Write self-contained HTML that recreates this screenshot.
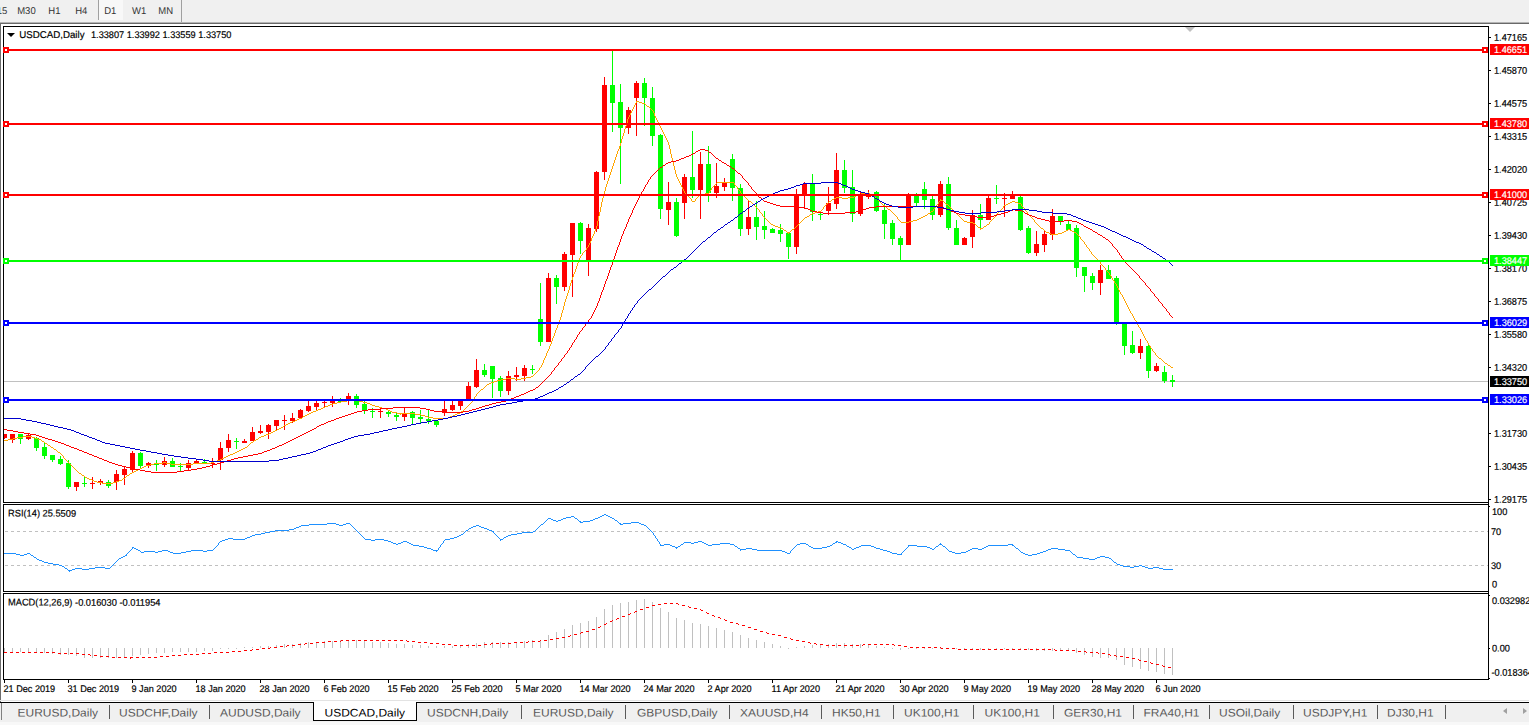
<!DOCTYPE html>
<html><head><meta charset="utf-8"><title>USDCAD,Daily</title>
<style>html,body{margin:0;padding:0;background:#fff;overflow:hidden}svg{display:block}text{font-family:"Liberation Sans",sans-serif}</style></head><body>
<svg width="1529" height="725" viewBox="0 0 1529 725">
<rect x="0" y="0" width="1529" height="725" fill="#ffffff"/>
<g shape-rendering="crispEdges">
<rect x="0" y="0" width="1529" height="22" fill="#f0f0f0"/>
<rect x="0" y="22" width="1529" height="1" fill="#b4b4b4"/>
<rect x="0" y="23" width="1529" height="1" fill="#696969"/>
<rect x="99" y="0" width="24" height="20" fill="#f8f8f8"/>
<rect x="98" y="0" width="1" height="20" fill="#a0a0a0"/>
<rect x="181" y="0" width="1" height="22" fill="#a0a0a0"/>
<rect x="0" y="23" width="1" height="679" fill="#6d6d6d"/>
</g>
<g shape-rendering="crispEdges">
<clipPath id="cm"><rect x="4" y="27" width="1484" height="475"/></clipPath>
<g clip-path="url(#cm)">
<rect x="4" y="381" width="1484" height="1" fill="#c0c0c0"/>
<rect x="4" y="434" width="1" height="5" fill="#ff0000"/>
<rect x="2" y="434" width="5" height="4" fill="#ff0000"/>
<rect x="12" y="434" width="1" height="9" fill="#ff0000"/>
<rect x="10" y="434" width="5" height="6" fill="#ff0000"/>
<rect x="20" y="434" width="1" height="10" fill="#00ff00"/>
<rect x="18" y="434" width="5" height="5" fill="#00ff00"/>
<rect x="28" y="434" width="1" height="6" fill="#ff0000"/>
<rect x="26" y="435" width="5" height="4" fill="#ff0000"/>
<rect x="36" y="437" width="1" height="14" fill="#00ff00"/>
<rect x="34" y="438" width="5" height="10" fill="#00ff00"/>
<rect x="44" y="443" width="1" height="16" fill="#00ff00"/>
<rect x="42" y="447" width="5" height="9" fill="#00ff00"/>
<rect x="52" y="455" width="1" height="7" fill="#00ff00"/>
<rect x="50" y="455" width="5" height="5" fill="#00ff00"/>
<rect x="60" y="456" width="1" height="9" fill="#00ff00"/>
<rect x="58" y="459" width="5" height="5" fill="#00ff00"/>
<rect x="68" y="460" width="1" height="29" fill="#00ff00"/>
<rect x="66" y="463" width="5" height="24" fill="#00ff00"/>
<rect x="76" y="482" width="1" height="9" fill="#ff0000"/>
<rect x="74" y="482" width="5" height="5" fill="#ff0000"/>
<rect x="84" y="476" width="1" height="11" fill="#00ff00"/>
<rect x="82" y="483" width="5" height="1" fill="#00ff00"/>
<rect x="92" y="477" width="1" height="12" fill="#ff0000"/>
<rect x="90" y="483" width="5" height="1" fill="#ff0000"/>
<rect x="100" y="479" width="1" height="6" fill="#ff0000"/>
<rect x="98" y="481" width="5" height="2" fill="#ff0000"/>
<rect x="108" y="480" width="1" height="8" fill="#00ff00"/>
<rect x="106" y="482" width="5" height="4" fill="#00ff00"/>
<rect x="116" y="470" width="1" height="20" fill="#ff0000"/>
<rect x="114" y="474" width="5" height="8" fill="#ff0000"/>
<rect x="124" y="467" width="1" height="18" fill="#ff0000"/>
<rect x="122" y="469" width="5" height="6" fill="#ff0000"/>
<rect x="132" y="451" width="1" height="21" fill="#ff0000"/>
<rect x="130" y="453" width="5" height="17" fill="#ff0000"/>
<rect x="140" y="452" width="1" height="17" fill="#00ff00"/>
<rect x="138" y="453" width="5" height="13" fill="#00ff00"/>
<rect x="148" y="462" width="1" height="6" fill="#ff0000"/>
<rect x="146" y="463" width="5" height="3" fill="#ff0000"/>
<rect x="156" y="460" width="1" height="11" fill="#00ff00"/>
<rect x="154" y="464" width="5" height="1" fill="#00ff00"/>
<rect x="164" y="457" width="1" height="10" fill="#ff0000"/>
<rect x="162" y="461" width="5" height="4" fill="#ff0000"/>
<rect x="172" y="458" width="1" height="9" fill="#00ff00"/>
<rect x="170" y="461" width="5" height="6" fill="#00ff00"/>
<rect x="180" y="463" width="1" height="8" fill="#00ff00"/>
<rect x="178" y="466" width="5" height="1" fill="#00ff00"/>
<rect x="188" y="460" width="1" height="10" fill="#ff0000"/>
<rect x="186" y="463" width="5" height="5" fill="#ff0000"/>
<rect x="196" y="460" width="1" height="4" fill="#ff0000"/>
<rect x="194" y="461" width="5" height="2" fill="#ff0000"/>
<rect x="204" y="459" width="1" height="5" fill="#00ff00"/>
<rect x="202" y="462" width="5" height="2" fill="#00ff00"/>
<rect x="212" y="458" width="1" height="10" fill="#ff0000"/>
<rect x="210" y="463" width="5" height="1" fill="#ff0000"/>
<rect x="220" y="442" width="1" height="28" fill="#ff0000"/>
<rect x="218" y="448" width="5" height="12" fill="#ff0000"/>
<rect x="228" y="434" width="1" height="18" fill="#ff0000"/>
<rect x="226" y="440" width="5" height="8" fill="#ff0000"/>
<rect x="236" y="438" width="1" height="11" fill="#00ff00"/>
<rect x="234" y="441" width="5" height="1" fill="#00ff00"/>
<rect x="244" y="439" width="1" height="4" fill="#ff0000"/>
<rect x="242" y="441" width="5" height="2" fill="#ff0000"/>
<rect x="252" y="427" width="1" height="14" fill="#ff0000"/>
<rect x="250" y="432" width="5" height="9" fill="#ff0000"/>
<rect x="260" y="425" width="1" height="9" fill="#ff0000"/>
<rect x="258" y="431" width="5" height="2" fill="#ff0000"/>
<rect x="268" y="424" width="1" height="15" fill="#ff0000"/>
<rect x="266" y="425" width="5" height="7" fill="#ff0000"/>
<rect x="276" y="420" width="1" height="10" fill="#ff0000"/>
<rect x="274" y="420" width="5" height="6" fill="#ff0000"/>
<rect x="284" y="415" width="1" height="15" fill="#ff0000"/>
<rect x="282" y="420" width="5" height="1" fill="#ff0000"/>
<rect x="292" y="413" width="1" height="10" fill="#ff0000"/>
<rect x="290" y="418" width="5" height="3" fill="#ff0000"/>
<rect x="300" y="409" width="1" height="10" fill="#ff0000"/>
<rect x="298" y="410" width="5" height="8" fill="#ff0000"/>
<rect x="308" y="401" width="1" height="11" fill="#ff0000"/>
<rect x="306" y="406" width="5" height="5" fill="#ff0000"/>
<rect x="316" y="401" width="1" height="10" fill="#ff0000"/>
<rect x="314" y="403" width="5" height="4" fill="#ff0000"/>
<rect x="324" y="400" width="1" height="8" fill="#ff0000"/>
<rect x="322" y="402" width="5" height="1" fill="#ff0000"/>
<rect x="332" y="396" width="1" height="11" fill="#ff0000"/>
<rect x="330" y="401" width="5" height="2" fill="#ff0000"/>
<rect x="340" y="398" width="1" height="4" fill="#00ff00"/>
<rect x="338" y="400" width="5" height="2" fill="#00ff00"/>
<rect x="348" y="393" width="1" height="12" fill="#ff0000"/>
<rect x="346" y="396" width="5" height="4" fill="#ff0000"/>
<rect x="356" y="394" width="1" height="14" fill="#00ff00"/>
<rect x="354" y="396" width="5" height="9" fill="#00ff00"/>
<rect x="364" y="401" width="1" height="13" fill="#00ff00"/>
<rect x="362" y="404" width="5" height="7" fill="#00ff00"/>
<rect x="372" y="408" width="1" height="10" fill="#00ff00"/>
<rect x="370" y="411" width="5" height="1" fill="#00ff00"/>
<rect x="380" y="408" width="1" height="10" fill="#ff0000"/>
<rect x="378" y="411" width="5" height="1" fill="#ff0000"/>
<rect x="388" y="411" width="1" height="6" fill="#00ff00"/>
<rect x="386" y="412" width="5" height="2" fill="#00ff00"/>
<rect x="396" y="413" width="1" height="8" fill="#00ff00"/>
<rect x="394" y="415" width="5" height="2" fill="#00ff00"/>
<rect x="404" y="407" width="1" height="14" fill="#ff0000"/>
<rect x="402" y="413" width="5" height="4" fill="#ff0000"/>
<rect x="412" y="411" width="1" height="13" fill="#00ff00"/>
<rect x="410" y="412" width="5" height="6" fill="#00ff00"/>
<rect x="420" y="410" width="1" height="13" fill="#00ff00"/>
<rect x="418" y="417" width="5" height="2" fill="#00ff00"/>
<rect x="428" y="409" width="1" height="15" fill="#00ff00"/>
<rect x="426" y="419" width="5" height="2" fill="#00ff00"/>
<rect x="436" y="420" width="1" height="7" fill="#00ff00"/>
<rect x="434" y="421" width="5" height="4" fill="#00ff00"/>
<rect x="444" y="400" width="1" height="16" fill="#ff0000"/>
<rect x="442" y="409" width="5" height="4" fill="#ff0000"/>
<rect x="452" y="400" width="1" height="11" fill="#ff0000"/>
<rect x="450" y="405" width="5" height="5" fill="#ff0000"/>
<rect x="460" y="400" width="1" height="10" fill="#ff0000"/>
<rect x="458" y="400" width="5" height="6" fill="#ff0000"/>
<rect x="468" y="382" width="1" height="19" fill="#ff0000"/>
<rect x="466" y="386" width="5" height="14" fill="#ff0000"/>
<rect x="476" y="359" width="1" height="29" fill="#ff0000"/>
<rect x="474" y="370" width="5" height="17" fill="#ff0000"/>
<rect x="484" y="364" width="1" height="13" fill="#00ff00"/>
<rect x="482" y="370" width="5" height="5" fill="#00ff00"/>
<rect x="492" y="366" width="1" height="32" fill="#00ff00"/>
<rect x="490" y="366" width="5" height="13" fill="#00ff00"/>
<rect x="500" y="376" width="1" height="21" fill="#00ff00"/>
<rect x="498" y="378" width="5" height="13" fill="#00ff00"/>
<rect x="508" y="371" width="1" height="24" fill="#ff0000"/>
<rect x="506" y="376" width="5" height="15" fill="#ff0000"/>
<rect x="516" y="367" width="1" height="14" fill="#ff0000"/>
<rect x="514" y="375" width="5" height="2" fill="#ff0000"/>
<rect x="524" y="365" width="1" height="16" fill="#ff0000"/>
<rect x="522" y="368" width="5" height="8" fill="#ff0000"/>
<rect x="532" y="365" width="1" height="9" fill="#00ff00"/>
<rect x="530" y="369" width="5" height="1" fill="#00ff00"/>
<rect x="540" y="283" width="1" height="63" fill="#00ff00"/>
<rect x="538" y="319" width="5" height="23" fill="#00ff00"/>
<rect x="548" y="273" width="1" height="69" fill="#ff0000"/>
<rect x="546" y="278" width="5" height="64" fill="#ff0000"/>
<rect x="556" y="275" width="1" height="29" fill="#00ff00"/>
<rect x="554" y="278" width="5" height="9" fill="#00ff00"/>
<rect x="564" y="252" width="1" height="39" fill="#ff0000"/>
<rect x="562" y="254" width="5" height="33" fill="#ff0000"/>
<rect x="572" y="223" width="1" height="74" fill="#ff0000"/>
<rect x="570" y="223" width="5" height="32" fill="#ff0000"/>
<rect x="580" y="222" width="1" height="32" fill="#00ff00"/>
<rect x="578" y="223" width="5" height="18" fill="#00ff00"/>
<rect x="588" y="224" width="1" height="52" fill="#ff0000"/>
<rect x="586" y="228" width="5" height="32" fill="#ff0000"/>
<rect x="596" y="171" width="1" height="61" fill="#ff0000"/>
<rect x="594" y="172" width="5" height="57" fill="#ff0000"/>
<rect x="604" y="77" width="1" height="103" fill="#ff0000"/>
<rect x="602" y="85" width="5" height="87" fill="#ff0000"/>
<rect x="612" y="51" width="1" height="81" fill="#00ff00"/>
<rect x="610" y="85" width="5" height="18" fill="#00ff00"/>
<rect x="620" y="84" width="1" height="100" fill="#00ff00"/>
<rect x="618" y="102" width="5" height="26" fill="#00ff00"/>
<rect x="628" y="107" width="1" height="27" fill="#ff0000"/>
<rect x="626" y="110" width="5" height="18" fill="#ff0000"/>
<rect x="636" y="81" width="1" height="55" fill="#ff0000"/>
<rect x="634" y="83" width="5" height="15" fill="#ff0000"/>
<rect x="644" y="78" width="1" height="48" fill="#00ff00"/>
<rect x="642" y="83" width="5" height="15" fill="#00ff00"/>
<rect x="652" y="87" width="1" height="59" fill="#00ff00"/>
<rect x="650" y="98" width="5" height="38" fill="#00ff00"/>
<rect x="660" y="134" width="1" height="85" fill="#00ff00"/>
<rect x="658" y="135" width="5" height="74" fill="#00ff00"/>
<rect x="668" y="182" width="1" height="43" fill="#ff0000"/>
<rect x="666" y="202" width="5" height="8" fill="#ff0000"/>
<rect x="676" y="198" width="1" height="39" fill="#00ff00"/>
<rect x="674" y="202" width="5" height="34" fill="#00ff00"/>
<rect x="684" y="174" width="1" height="45" fill="#ff0000"/>
<rect x="682" y="177" width="5" height="26" fill="#ff0000"/>
<rect x="692" y="131" width="1" height="67" fill="#00ff00"/>
<rect x="690" y="177" width="5" height="13" fill="#00ff00"/>
<rect x="700" y="152" width="1" height="67" fill="#ff0000"/>
<rect x="698" y="164" width="5" height="26" fill="#ff0000"/>
<rect x="708" y="146" width="1" height="56" fill="#00ff00"/>
<rect x="706" y="164" width="5" height="29" fill="#00ff00"/>
<rect x="716" y="163" width="1" height="35" fill="#ff0000"/>
<rect x="714" y="186" width="5" height="7" fill="#ff0000"/>
<rect x="724" y="178" width="1" height="13" fill="#ff0000"/>
<rect x="722" y="182" width="5" height="5" fill="#ff0000"/>
<rect x="732" y="154" width="1" height="47" fill="#00ff00"/>
<rect x="730" y="159" width="5" height="29" fill="#00ff00"/>
<rect x="740" y="184" width="1" height="52" fill="#00ff00"/>
<rect x="738" y="188" width="5" height="41" fill="#00ff00"/>
<rect x="748" y="201" width="1" height="34" fill="#ff0000"/>
<rect x="746" y="217" width="5" height="12" fill="#ff0000"/>
<rect x="756" y="201" width="1" height="39" fill="#00ff00"/>
<rect x="754" y="217" width="5" height="10" fill="#00ff00"/>
<rect x="764" y="211" width="1" height="28" fill="#00ff00"/>
<rect x="762" y="226" width="5" height="4" fill="#00ff00"/>
<rect x="772" y="228" width="1" height="5" fill="#00ff00"/>
<rect x="770" y="229" width="5" height="4" fill="#00ff00"/>
<rect x="780" y="224" width="1" height="18" fill="#00ff00"/>
<rect x="778" y="230" width="5" height="4" fill="#00ff00"/>
<rect x="788" y="233" width="1" height="26" fill="#00ff00"/>
<rect x="786" y="233" width="5" height="14" fill="#00ff00"/>
<rect x="796" y="189" width="1" height="65" fill="#ff0000"/>
<rect x="794" y="195" width="5" height="52" fill="#ff0000"/>
<rect x="804" y="182" width="1" height="27" fill="#ff0000"/>
<rect x="802" y="184" width="5" height="11" fill="#ff0000"/>
<rect x="812" y="174" width="1" height="47" fill="#00ff00"/>
<rect x="810" y="184" width="5" height="28" fill="#00ff00"/>
<rect x="820" y="212" width="1" height="8" fill="#00ff00"/>
<rect x="818" y="214" width="5" height="1" fill="#00ff00"/>
<rect x="828" y="187" width="1" height="27" fill="#ff0000"/>
<rect x="826" y="203" width="5" height="8" fill="#ff0000"/>
<rect x="836" y="153" width="1" height="56" fill="#ff0000"/>
<rect x="834" y="170" width="5" height="34" fill="#ff0000"/>
<rect x="844" y="160" width="1" height="33" fill="#00ff00"/>
<rect x="842" y="170" width="5" height="18" fill="#00ff00"/>
<rect x="852" y="170" width="1" height="52" fill="#00ff00"/>
<rect x="850" y="187" width="5" height="27" fill="#00ff00"/>
<rect x="860" y="192" width="1" height="24" fill="#ff0000"/>
<rect x="858" y="195" width="5" height="19" fill="#ff0000"/>
<rect x="868" y="190" width="1" height="9" fill="#ff0000"/>
<rect x="866" y="194" width="5" height="3" fill="#ff0000"/>
<rect x="876" y="191" width="1" height="21" fill="#00ff00"/>
<rect x="874" y="192" width="5" height="19" fill="#00ff00"/>
<rect x="884" y="204" width="1" height="35" fill="#00ff00"/>
<rect x="882" y="210" width="5" height="14" fill="#00ff00"/>
<rect x="892" y="220" width="1" height="25" fill="#00ff00"/>
<rect x="890" y="223" width="5" height="16" fill="#00ff00"/>
<rect x="900" y="236" width="1" height="24" fill="#00ff00"/>
<rect x="898" y="238" width="5" height="7" fill="#00ff00"/>
<rect x="908" y="193" width="1" height="52" fill="#ff0000"/>
<rect x="906" y="195" width="5" height="50" fill="#ff0000"/>
<rect x="916" y="193" width="1" height="13" fill="#00ff00"/>
<rect x="914" y="196" width="5" height="7" fill="#00ff00"/>
<rect x="924" y="182" width="1" height="27" fill="#00ff00"/>
<rect x="922" y="189" width="5" height="11" fill="#00ff00"/>
<rect x="932" y="196" width="1" height="24" fill="#00ff00"/>
<rect x="930" y="199" width="5" height="16" fill="#00ff00"/>
<rect x="940" y="181" width="1" height="36" fill="#ff0000"/>
<rect x="938" y="184" width="5" height="31" fill="#ff0000"/>
<rect x="948" y="177" width="1" height="53" fill="#00ff00"/>
<rect x="946" y="184" width="5" height="44" fill="#00ff00"/>
<rect x="956" y="220" width="1" height="25" fill="#00ff00"/>
<rect x="954" y="228" width="5" height="17" fill="#00ff00"/>
<rect x="964" y="237" width="1" height="8" fill="#ff0000"/>
<rect x="962" y="238" width="5" height="7" fill="#ff0000"/>
<rect x="972" y="210" width="1" height="38" fill="#ff0000"/>
<rect x="970" y="215" width="5" height="22" fill="#ff0000"/>
<rect x="980" y="204" width="1" height="24" fill="#00ff00"/>
<rect x="978" y="215" width="5" height="5" fill="#00ff00"/>
<rect x="988" y="196" width="1" height="24" fill="#ff0000"/>
<rect x="986" y="198" width="5" height="22" fill="#ff0000"/>
<rect x="996" y="185" width="1" height="19" fill="#00ff00"/>
<rect x="994" y="198" width="5" height="1" fill="#00ff00"/>
<rect x="1004" y="193" width="1" height="24" fill="#ff0000"/>
<rect x="1002" y="198" width="5" height="1" fill="#ff0000"/>
<rect x="1012" y="191" width="1" height="8" fill="#ff0000"/>
<rect x="1010" y="195" width="5" height="4" fill="#ff0000"/>
<rect x="1020" y="196" width="1" height="35" fill="#00ff00"/>
<rect x="1018" y="197" width="5" height="33" fill="#00ff00"/>
<rect x="1028" y="226" width="1" height="28" fill="#00ff00"/>
<rect x="1026" y="228" width="5" height="25" fill="#00ff00"/>
<rect x="1036" y="231" width="1" height="25" fill="#ff0000"/>
<rect x="1034" y="244" width="5" height="9" fill="#ff0000"/>
<rect x="1044" y="230" width="1" height="22" fill="#ff0000"/>
<rect x="1042" y="234" width="5" height="11" fill="#ff0000"/>
<rect x="1052" y="209" width="1" height="31" fill="#ff0000"/>
<rect x="1050" y="216" width="5" height="19" fill="#ff0000"/>
<rect x="1060" y="216" width="1" height="9" fill="#00ff00"/>
<rect x="1058" y="216" width="5" height="6" fill="#00ff00"/>
<rect x="1068" y="220" width="1" height="10" fill="#00ff00"/>
<rect x="1066" y="224" width="5" height="6" fill="#00ff00"/>
<rect x="1076" y="225" width="1" height="52" fill="#00ff00"/>
<rect x="1074" y="228" width="5" height="40" fill="#00ff00"/>
<rect x="1084" y="267" width="1" height="25" fill="#00ff00"/>
<rect x="1082" y="267" width="5" height="9" fill="#00ff00"/>
<rect x="1092" y="273" width="1" height="17" fill="#00ff00"/>
<rect x="1090" y="276" width="5" height="7" fill="#00ff00"/>
<rect x="1100" y="265" width="1" height="30" fill="#ff0000"/>
<rect x="1098" y="270" width="5" height="13" fill="#ff0000"/>
<rect x="1108" y="265" width="1" height="14" fill="#00ff00"/>
<rect x="1106" y="270" width="5" height="9" fill="#00ff00"/>
<rect x="1116" y="276" width="1" height="49" fill="#00ff00"/>
<rect x="1114" y="278" width="5" height="44" fill="#00ff00"/>
<rect x="1124" y="324" width="1" height="31" fill="#00ff00"/>
<rect x="1122" y="324" width="5" height="22" fill="#00ff00"/>
<rect x="1132" y="331" width="1" height="23" fill="#00ff00"/>
<rect x="1130" y="345" width="5" height="8" fill="#00ff00"/>
<rect x="1140" y="339" width="1" height="20" fill="#ff0000"/>
<rect x="1138" y="346" width="5" height="7" fill="#ff0000"/>
<rect x="1148" y="344" width="1" height="34" fill="#00ff00"/>
<rect x="1146" y="346" width="5" height="25" fill="#00ff00"/>
<rect x="1156" y="363" width="1" height="9" fill="#ff0000"/>
<rect x="1154" y="366" width="5" height="5" fill="#ff0000"/>
<rect x="1164" y="366" width="1" height="17" fill="#00ff00"/>
<rect x="1162" y="372" width="5" height="9" fill="#00ff00"/>
<rect x="1172" y="375" width="1" height="12" fill="#00ff00"/>
<rect x="1170" y="380" width="5" height="2" fill="#00ff00"/>
<path d="M4 440h4v1h-4zM8 439h5v1h-5zM13 438h4v1h-4zM17 437h6v1h-6zM23 436h9v1h-9zM32 437h3v1h-3zM35 438h3v1h-3zM38 439h3v1h-3zM41 440h1v1h-1zM42 441h2v1h-2zM44 442h1v1h-1zM45 443h2v1h-2zM47 444h1v1h-1zM48 445h2v1h-2zM50 446h1v1h-1zM51 447h2v1h-2zM53 448h1v1h-1zM54 449h2v1h-2zM56 450h1v1h-1zM57 451h1v1h-1zM58 452h2v1h-2zM60 453h1v1h-1zM61 454h1v1h-1zM62 455h1v1h-1zM63 456h1v2h-1zM64 458h1v1h-1zM65 459h1v1h-1zM66 460h1v1h-1zM67 461h1v1h-1zM68 462h1v1h-1zM69 463h1v1h-1zM70 464h1v1h-1zM71 465h1v1h-1zM72 466h1v1h-1zM73 467h1v1h-1zM74 468h1v1h-1zM75 469h1v1h-1zM76 470h1v1h-1zM77 471h1v1h-1zM78 472h1v1h-1zM79 473h2v1h-2zM81 474h1v1h-1zM82 475h2v1h-2zM84 476h1v1h-1zM85 477h2v1h-2zM87 478h2v1h-2zM89 479h3v1h-3zM92 480h2v1h-2zM94 481h3v1h-3zM97 482h5v1h-5zM102 483h11v1h-11zM113 482h3v1h-3zM116 481h3v1h-3zM119 480h3v1h-3zM122 479h1v1h-1zM123 478h2v1h-2zM125 477h1v1h-1zM126 476h1v1h-1zM127 475h2v1h-2zM129 474h1v1h-1zM130 473h2v1h-2zM132 472h2v1h-2zM134 471h2v1h-2zM136 470h2v1h-2zM138 469h2v1h-2zM140 468h2v1h-2zM142 467h2v1h-2zM144 466h2v1h-2zM146 465h4v1h-4zM150 464h4v1h-4zM154 463h9v1h-9zM163 462h3v1h-3zM166 463h5v1h-5zM171 464h22v1h-22zM193 463h18v1h-18zM211 462h3v1h-3zM214 461h3v1h-3zM217 460h3v1h-3zM220 459h2v1h-2zM222 458h2v1h-2zM224 457h2v1h-2zM226 456h2v1h-2zM228 455h2v1h-2zM230 454h3v1h-3zM233 453h2v1h-2zM235 452h2v1h-2zM237 451h2v1h-2zM239 450h2v1h-2zM241 449h2v1h-2zM243 448h2v1h-2zM245 447h2v1h-2zM247 446h1v1h-1zM248 445h1v1h-1zM249 444h1v1h-1zM250 443h1v1h-1zM251 442h2v1h-2zM253 441h1v1h-1zM254 440h2v1h-2zM256 439h2v1h-2zM258 438h1v1h-1zM259 437h2v1h-2zM261 436h3v1h-3zM264 435h2v1h-2zM266 434h3v1h-3zM269 433h2v1h-2zM271 432h2v1h-2zM273 431h2v1h-2zM275 430h2v1h-2zM277 429h2v1h-2zM279 428h2v1h-2zM281 427h2v1h-2zM283 426h1v1h-1zM284 425h2v1h-2zM286 424h2v1h-2zM288 423h2v1h-2zM290 422h2v1h-2zM292 421h3v1h-3zM295 420h2v1h-2zM297 419h2v1h-2zM299 418h3v1h-3zM302 417h1v1h-1zM303 416h2v1h-2zM305 415h2v1h-2zM307 414h2v1h-2zM309 413h2v1h-2zM311 412h2v1h-2zM313 411h3v1h-3zM316 410h2v1h-2zM318 409h3v1h-3zM321 408h2v1h-2zM323 407h2v1h-2zM325 406h3v1h-3zM328 405h2v1h-2zM330 404h3v1h-3zM333 403h4v1h-4zM337 402h4v1h-4zM341 401h6v1h-6zM347 400h12v1h-12zM359 401h4v1h-4zM363 402h4v1h-4zM367 403h3v1h-3zM370 404h2v1h-2zM372 405h3v1h-3zM375 406h4v1h-4zM379 407h3v1h-3zM382 408h4v1h-4zM386 409h2v1h-2zM388 410h2v1h-2zM390 411h2v1h-2zM392 412h5v1h-5zM397 413h3v1h-3zM400 413h1v2h-1zM401 413h14v1h-14zM415 414h6v1h-6zM421 415h4v1h-4zM425 416h3v1h-3zM428 417h5v1h-5zM433 418h7v1h-7zM440 418h1v2h-1zM441 418h7v1h-7zM448 417h2v1h-2zM450 416h3v1h-3zM453 415h2v1h-2zM455 414h2v1h-2zM457 413h3v1h-3zM460 412h1v1h-1zM461 411h2v1h-2zM463 410h1v1h-1zM464 409h1v1h-1zM465 408h1v1h-1zM466 407h1v1h-1zM467 406h1v1h-1zM468 405h1v1h-1zM469 404h1v1h-1zM470 403h1v1h-1zM471 402h1v1h-1zM472 401h1v1h-1zM473 399h1v2h-1zM474 397h1v2h-1zM475 396h1v1h-1zM476 394h1v2h-1zM477 393h1v1h-1zM478 392h1v1h-1zM479 391h1v1h-1zM480 390h1v1h-1zM481 389h2v1h-2zM483 388h1v1h-1zM484 387h1v1h-1zM485 386h1v1h-1zM486 385h1v1h-1zM487 384h2v1h-2zM489 383h2v1h-2zM491 382h3v1h-3zM494 381h3v1h-3zM497 380h4v1h-4zM501 379h5v1h-5zM506 378h9v1h-9zM515 379h6v1h-6zM521 378h5v1h-5zM526 377h5v1h-5zM531 376h2v1h-2zM533 375h1v1h-1zM534 374h1v1h-1zM535 373h1v1h-1zM536 372h1v1h-1zM537 371h1v1h-1zM538 370h1v1h-1zM539 368h1v2h-1zM540 367h1v1h-1zM541 365h1v2h-1zM542 363h1v2h-1zM543 360h1v3h-1zM544 358h1v2h-1zM545 356h1v2h-1zM546 353h1v3h-1zM547 351h1v2h-1zM548 349h1v2h-1zM549 346h1v3h-1zM550 344h1v2h-1zM551 341h1v3h-1zM552 338h1v3h-1zM553 336h1v2h-1zM554 333h1v3h-1zM555 330h1v3h-1zM556 328h1v2h-1zM557 325h1v3h-1zM558 322h1v3h-1zM559 320h1v2h-1zM560 317h1v3h-1zM561 313h1v4h-1zM562 310h1v3h-1zM563 306h1v4h-1zM564 302h1v4h-1zM565 299h1v3h-1zM566 296h1v3h-1zM567 293h1v3h-1zM568 290h1v3h-1zM569 286h1v4h-1zM570 283h1v3h-1zM571 280h1v3h-1zM572 277h1v3h-1zM573 274h1v3h-1zM574 272h1v2h-1zM575 269h1v3h-1zM576 266h1v3h-1zM577 263h1v3h-1zM578 261h1v2h-1zM579 258h1v3h-1zM580 256h1v2h-1zM581 255h1v1h-1zM582 253h1v2h-1zM583 252h1v1h-1zM584 251h1v1h-1zM585 250h1v1h-1zM586 248h1v2h-1zM587 247h1v1h-1zM588 245h1v2h-1zM589 243h1v2h-1zM590 241h1v2h-1zM591 238h1v3h-1zM592 236h1v2h-1zM593 234h1v2h-1zM594 231h1v3h-1zM595 229h1v2h-1zM596 226h1v3h-1zM597 221h1v5h-1zM598 216h1v5h-1zM599 212h1v4h-1zM600 207h1v5h-1zM601 202h1v5h-1zM602 198h1v4h-1zM603 194h1v4h-1zM604 191h1v3h-1zM605 187h1v4h-1zM606 184h1v3h-1zM607 181h1v3h-1zM608 178h1v3h-1zM609 175h1v3h-1zM610 172h1v3h-1zM611 169h1v3h-1zM612 166h1v3h-1zM613 163h1v3h-1zM614 160h1v3h-1zM615 157h1v3h-1zM616 154h1v3h-1zM617 151h1v3h-1zM618 149h1v2h-1zM619 146h1v3h-1zM620 143h1v3h-1zM621 139h1v4h-1zM622 136h1v3h-1zM623 133h1v3h-1zM624 129h1v4h-1zM625 126h1v3h-1zM626 123h1v3h-1zM627 119h1v4h-1zM628 117h1v2h-1zM629 115h1v2h-1zM630 113h1v2h-1zM631 111h1v2h-1zM632 109h1v2h-1zM633 107h1v2h-1zM634 105h1v2h-1zM635 103h1v2h-1zM636 101h1v2h-1zM637 101h2v1h-2zM639 102h3v1h-3zM642 103h3v1h-3zM645 104h1v1h-1zM646 105h1v1h-1zM647 106h2v1h-2zM649 107h1v1h-1zM650 108h1v1h-1zM651 109h1v1h-1zM652 110h1v1h-1zM653 111h1v2h-1zM654 113h1v3h-1zM655 116h1v2h-1zM656 118h1v2h-1zM657 120h1v2h-1zM658 122h1v2h-1zM659 124h1v2h-1zM660 126h1v2h-1zM661 128h1v2h-1zM662 130h1v2h-1zM663 132h1v2h-1zM664 134h1v2h-1zM665 136h1v2h-1zM666 138h1v2h-1zM667 140h1v2h-1zM668 142h1v3h-1zM669 145h1v4h-1zM670 149h1v5h-1zM671 154h1v4h-1zM672 158h1v4h-1zM673 162h1v4h-1zM674 166h1v4h-1zM675 170h1v4h-1zM676 174h1v3h-1zM677 177h1v2h-1zM678 179h1v2h-1zM679 181h1v2h-1zM680 183h1v2h-1zM681 185h1v2h-1zM682 187h1v2h-1zM683 189h1v2h-1zM684 191h1v2h-1zM685 193h1v1h-1zM686 194h1v1h-1zM687 195h1v1h-1zM688 196h1v1h-1zM689 197h1v1h-1zM690 198h1v1h-1zM691 199h1v2h-1zM692 201h3v1h-3zM695 199h1v2h-1zM696 198h1v1h-1zM697 197h1v1h-1zM698 196h1v1h-1zM699 195h3v1h-3zM702 194h3v1h-3zM705 193h4v1h-4zM709 191h1v2h-1zM710 190h1v1h-1zM711 188h1v2h-1zM712 187h1v1h-1zM713 186h1v1h-1zM714 185h1v1h-1zM715 184h1v1h-1zM716 183h1v1h-1zM717 182h17v1h-17zM734 183h1v2h-1zM735 185h1v1h-1zM736 186h1v1h-1zM737 187h1v2h-1zM738 189h1v1h-1zM739 190h1v1h-1zM740 191h1v2h-1zM741 193h1v1h-1zM742 194h1v1h-1zM743 195h1v1h-1zM744 196h1v1h-1zM745 197h1v1h-1zM746 198h1v1h-1zM747 199h1v1h-1zM748 200h1v1h-1zM749 201h2v1h-2zM751 202h1v1h-1zM752 203h1v1h-1zM753 204h1v1h-1zM754 205h1v1h-1zM755 206h1v1h-1zM756 207h1v1h-1zM757 208h1v1h-1zM758 209h1v1h-1zM759 210h1v2h-1zM760 212h1v1h-1zM761 213h1v1h-1zM762 214h1v2h-1zM763 216h1v1h-1zM764 217h1v1h-1zM765 218h1v1h-1zM766 219h1v1h-1zM767 220h1v1h-1zM768 221h1v1h-1zM769 222h1v1h-1zM770 223h1v1h-1zM771 224h2v1h-2zM773 225h2v1h-2zM775 226h3v1h-3zM778 227h3v1h-3zM781 228h2v1h-2zM783 229h1v1h-1zM784 230h2v1h-2zM786 231h1v1h-1zM787 232h1v1h-1zM788 232h1v2h-1zM789 232h1v1h-1zM790 231h1v1h-1zM791 230h1v1h-1zM792 229h2v1h-2zM794 228h1v1h-1zM795 227h1v1h-1zM796 226h1v1h-1zM797 225h1v1h-1zM798 224h1v1h-1zM799 223h1v1h-1zM800 222h1v1h-1zM801 221h1v1h-1zM802 220h1v1h-1zM803 219h1v1h-1zM804 218h1v1h-1zM805 217h2v1h-2zM807 216h2v1h-2zM809 215h1v1h-1zM810 214h2v1h-2zM812 213h3v1h-3zM815 212h3v1h-3zM818 211h3v1h-3zM821 210h1v1h-1zM822 209h1v1h-1zM823 207h1v2h-1zM824 206h1v1h-1zM825 205h1v1h-1zM826 204h1v1h-1zM827 203h1v1h-1zM828 202h1v1h-1zM829 201h2v1h-2zM831 200h1v1h-1zM832 199h2v1h-2zM834 198h2v1h-2zM836 197h6v1h-6zM842 198h6v1h-6zM848 197h6v1h-6zM854 196h2v1h-2zM856 195h2v1h-2zM858 194h3v1h-3zM861 193h7v1h-7zM868 192h1v2h-1zM869 193h1v1h-1zM870 194h2v1h-2zM872 195h1v1h-1zM873 196h1v1h-1zM874 197h2v1h-2zM876 198h1v1h-1zM877 199h1v1h-1zM878 200h1v1h-1zM879 201h1v1h-1zM880 202h1v1h-1zM881 203h1v1h-1zM882 204h1v1h-1zM883 205h2v1h-2zM885 206h1v1h-1zM886 207h1v1h-1zM887 208h1v1h-1zM888 209h2v1h-2zM890 210h1v1h-1zM891 211h1v1h-1zM892 212h1v1h-1zM893 213h1v1h-1zM894 214h1v1h-1zM895 215h1v1h-1zM896 216h1v1h-1zM897 217h1v2h-1zM898 219h1v1h-1zM899 220h1v1h-1zM900 221h1v1h-1zM901 222h8v1h-8zM909 221h4v1h-4zM913 220h4v1h-4zM917 219h2v1h-2zM919 218h2v1h-2zM921 217h2v1h-2zM923 216h2v1h-2zM925 215h2v1h-2zM927 214h1v1h-1zM928 213h2v1h-2zM930 212h1v1h-1zM931 211h2v1h-2zM933 209h1v2h-1zM934 208h1v1h-1zM935 207h1v1h-1zM936 205h1v2h-1zM937 204h1v1h-1zM938 202h1v2h-1zM939 201h1v1h-1zM940 199h1v2h-1zM941 200h2v1h-2zM943 201h1v1h-1zM944 202h1v1h-1zM945 203h1v1h-1zM946 204h2v1h-2zM948 205h1v1h-1zM949 206h1v1h-1zM950 207h1v1h-1zM951 208h1v1h-1zM952 209h1v1h-1zM953 210h1v1h-1zM954 211h1v1h-1zM955 212h1v1h-1zM956 213h1v1h-1zM957 214h1v1h-1zM958 215h1v1h-1zM959 216h1v1h-1zM960 217h1v1h-1zM961 218h1v1h-1zM962 219h1v1h-1zM963 220h1v1h-1zM964 221h3v1h-3zM967 222h6v1h-6zM973 223h2v1h-2zM975 224h1v1h-1zM976 225h1v1h-1zM977 226h1v1h-1zM978 227h2v1h-2zM980 228h1v2h-1zM981 228h2v1h-2zM983 227h1v1h-1zM984 226h2v1h-2zM986 225h1v1h-1zM987 224h2v1h-2zM989 222h1v2h-1zM990 221h1v1h-1zM991 220h1v1h-1zM992 219h1v1h-1zM993 218h1v1h-1zM994 217h1v1h-1zM995 215h1v2h-1zM996 214h1v1h-1zM997 213h1v1h-1zM998 212h1v1h-1zM999 211h1v1h-1zM1000 210h1v1h-1zM1001 209h1v1h-1zM1002 208h1v1h-1zM1003 206h1v2h-1zM1004 205h2v1h-2zM1006 204h2v1h-2zM1008 203h2v1h-2zM1010 202h2v1h-2zM1012 201h3v1h-3zM1015 202h3v1h-3zM1018 203h3v1h-3zM1021 204h1v2h-1zM1022 206h1v1h-1zM1023 207h1v1h-1zM1024 208h1v2h-1zM1025 210h1v1h-1zM1026 211h1v1h-1zM1027 212h1v2h-1zM1028 214h1v1h-1zM1029 215h1v1h-1zM1030 216h1v1h-1zM1031 217h1v1h-1zM1032 218h1v1h-1zM1033 219h1v1h-1zM1034 220h1v2h-1zM1035 222h1v1h-1zM1036 223h1v1h-1zM1037 224h1v1h-1zM1038 225h1v1h-1zM1039 226h1v1h-1zM1040 227h1v1h-1zM1041 228h2v1h-2zM1043 229h1v1h-1zM1044 230h1v1h-1zM1045 231h1v1h-1zM1046 232h3v1h-3zM1049 233h2v1h-2zM1051 234h7v1h-7zM1058 233h4v1h-4zM1062 232h2v1h-2zM1064 231h2v1h-2zM1066 230h2v1h-2zM1068 229h2v1h-2zM1070 230h2v1h-2zM1072 231h2v1h-2zM1074 232h2v1h-2zM1076 233h1v1h-1zM1077 234h1v1h-1zM1078 235h1v1h-1zM1079 236h1v1h-1zM1080 237h1v2h-1zM1081 239h1v1h-1zM1082 240h1v1h-1zM1083 241h1v1h-1zM1084 242h1v2h-1zM1085 244h1v1h-1zM1086 245h1v2h-1zM1087 247h1v1h-1zM1088 248h1v1h-1zM1089 249h1v2h-1zM1090 251h1v1h-1zM1091 252h1v2h-1zM1092 254h1v1h-1zM1093 255h1v1h-1zM1094 256h1v1h-1zM1095 257h1v1h-1zM1096 258h1v1h-1zM1097 259h1v1h-1zM1098 260h1v1h-1zM1099 261h1v1h-1zM1100 262h1v2h-1zM1101 264h1v1h-1zM1102 265h1v1h-1zM1103 266h1v1h-1zM1104 267h1v1h-1zM1105 268h1v2h-1zM1106 270h1v1h-1zM1107 271h1v1h-1zM1108 272h1v1h-1zM1109 273h1v2h-1zM1110 275h1v1h-1zM1111 276h1v2h-1zM1112 278h1v2h-1zM1113 280h1v1h-1zM1114 281h1v2h-1zM1115 283h1v1h-1zM1116 284h1v2h-1zM1117 286h1v2h-1zM1118 288h1v2h-1zM1119 290h1v2h-1zM1120 292h1v2h-1zM1121 294h1v1h-1zM1122 295h1v2h-1zM1123 297h1v2h-1zM1124 299h1v2h-1zM1125 301h1v2h-1zM1126 303h1v2h-1zM1127 305h1v2h-1zM1128 307h1v2h-1zM1129 309h1v2h-1zM1130 311h1v2h-1zM1131 313h1v1h-1zM1132 314h1v2h-1zM1133 316h1v2h-1zM1134 318h1v2h-1zM1135 320h1v1h-1zM1136 321h1v2h-1zM1137 323h1v2h-1zM1138 325h1v2h-1zM1139 327h1v1h-1zM1140 328h1v2h-1zM1141 330h1v2h-1zM1142 332h1v2h-1zM1143 334h1v2h-1zM1144 336h1v2h-1zM1145 338h1v2h-1zM1146 340h1v1h-1zM1147 341h1v2h-1zM1148 343h1v2h-1zM1149 345h1v1h-1zM1150 346h1v2h-1zM1151 348h1v1h-1zM1152 349h1v2h-1zM1153 351h1v1h-1zM1154 352h1v1h-1zM1155 353h1v2h-1zM1156 355h1v1h-1zM1157 356h1v1h-1zM1158 357h1v1h-1zM1159 358h2v1h-2zM1161 359h1v1h-1zM1162 360h1v1h-1zM1163 361h1v1h-1zM1164 362h1v1h-1zM1165 363h2v1h-2zM1167 364h1v1h-1zM1168 365h2v1h-2zM1170 366h1v1h-1zM1171 367h2v1h-2z" fill="#ffa500"/>
<path d="M4 429h3v1h-3zM7 430h6v1h-6zM13 431h5v1h-5zM18 432h6v1h-6zM24 433h6v1h-6zM30 434h6v1h-6zM36 435h3v1h-3zM39 436h3v1h-3zM42 437h3v1h-3zM45 438h3v1h-3zM48 439h4v1h-4zM52 440h3v1h-3zM55 441h3v1h-3zM58 442h3v1h-3zM61 443h3v1h-3zM64 444h2v1h-2zM66 445h3v1h-3zM69 446h2v1h-2zM71 447h3v1h-3zM74 448h3v1h-3zM77 449h2v1h-2zM79 450h3v1h-3zM82 451h2v1h-2zM84 452h3v1h-3zM87 453h2v1h-2zM89 454h3v1h-3zM92 455h2v1h-2zM94 456h3v1h-3zM97 457h2v1h-2zM99 458h3v1h-3zM102 459h2v1h-2zM104 460h3v1h-3zM107 461h2v1h-2zM109 462h3v1h-3zM112 463h3v1h-3zM115 464h3v1h-3zM118 465h4v1h-4zM122 466h4v1h-4zM126 467h4v1h-4zM130 468h5v1h-5zM135 469h5v1h-5zM140 470h5v1h-5zM145 471h6v1h-6zM151 472h26v1h-26zM177 471h7v1h-7zM184 470h7v1h-7zM191 469h6v1h-6zM197 468h5v1h-5zM202 467h4v1h-4zM206 466h4v1h-4zM210 465h3v1h-3zM213 464h4v1h-4zM217 463h3v1h-3zM220 462h4v1h-4zM224 461h3v1h-3zM227 460h4v1h-4zM231 459h3v1h-3zM234 458h4v1h-4zM238 457h5v1h-5zM243 456h5v1h-5zM248 455h5v1h-5zM253 454h5v1h-5zM258 453h4v1h-4zM262 452h2v1h-2zM264 451h3v1h-3zM267 450h3v1h-3zM270 449h2v1h-2zM272 448h3v1h-3zM275 447h2v1h-2zM277 446h2v1h-2zM279 445h3v1h-3zM282 444h2v1h-2zM284 443h2v1h-2zM286 442h2v1h-2zM288 441h2v1h-2zM290 440h2v1h-2zM292 439h2v1h-2zM294 438h2v1h-2zM296 437h2v1h-2zM298 436h2v1h-2zM300 435h2v1h-2zM302 434h2v1h-2zM304 433h2v1h-2zM306 432h2v1h-2zM308 431h2v1h-2zM310 430h2v1h-2zM312 429h2v1h-2zM314 428h2v1h-2zM316 427h1v1h-1zM317 426h2v1h-2zM319 425h2v1h-2zM321 424h3v1h-3zM324 423h2v1h-2zM326 422h2v1h-2zM328 421h3v1h-3zM331 420h3v1h-3zM334 419h2v1h-2zM336 418h3v1h-3zM339 417h3v1h-3zM342 416h3v1h-3zM345 415h3v1h-3zM348 414h3v1h-3zM351 413h3v1h-3zM354 412h3v1h-3zM357 411h5v1h-5zM362 410h6v1h-6zM368 409h12v1h-12zM380 408h13v1h-13zM393 407h27v1h-27zM420 408h6v1h-6zM426 409h4v1h-4zM430 410h4v1h-4zM434 411h9v1h-9zM443 412h20v1h-20zM463 411h6v1h-6zM469 410h3v1h-3zM472 409h4v1h-4zM476 408h3v1h-3zM479 407h3v1h-3zM482 406h3v1h-3zM485 405h4v1h-4zM489 404h3v1h-3zM492 403h4v1h-4zM496 402h5v1h-5zM501 401h5v1h-5zM506 400h3v1h-3zM509 399h2v1h-2zM511 398h3v1h-3zM514 397h2v1h-2zM516 396h3v1h-3zM519 395h2v1h-2zM521 394h3v1h-3zM524 393h2v1h-2zM526 392h2v1h-2zM528 391h2v1h-2zM530 390h3v1h-3zM533 389h2v1h-2zM535 388h1v1h-1zM536 387h2v1h-2zM538 386h1v1h-1zM539 385h1v1h-1zM540 384h1v1h-1zM541 383h1v1h-1zM542 382h1v1h-1zM543 381h1v1h-1zM544 380h1v1h-1zM545 379h1v1h-1zM546 378h1v1h-1zM547 377h1v1h-1zM548 376h1v1h-1zM549 375h1v1h-1zM550 374h1v1h-1zM551 372h1v2h-1zM552 371h1v1h-1zM553 370h1v1h-1zM554 368h1v2h-1zM555 367h1v1h-1zM556 366h1v1h-1zM557 365h1v1h-1zM558 363h1v2h-1zM559 362h1v1h-1zM560 361h1v1h-1zM561 359h1v2h-1zM562 358h1v1h-1zM563 357h1v1h-1zM564 355h1v2h-1zM565 354h1v1h-1zM566 353h1v1h-1zM567 351h1v2h-1zM568 350h1v1h-1zM569 348h1v2h-1zM570 347h1v1h-1zM571 345h1v2h-1zM572 343h1v2h-1zM573 342h1v1h-1zM574 340h1v2h-1zM575 339h1v1h-1zM576 337h1v2h-1zM577 335h1v2h-1zM578 334h1v1h-1zM579 332h1v2h-1zM580 331h1v1h-1zM581 330h1v1h-1zM582 328h1v2h-1zM583 327h1v1h-1zM584 326h1v1h-1zM585 324h1v2h-1zM586 323h1v1h-1zM587 322h1v1h-1zM588 320h1v2h-1zM589 319h1v1h-1zM590 318h1v1h-1zM591 316h1v2h-1zM592 314h1v2h-1zM593 312h1v2h-1zM594 310h1v2h-1zM595 308h1v2h-1zM596 306h1v2h-1zM597 303h1v3h-1zM598 301h1v2h-1zM599 298h1v3h-1zM600 295h1v3h-1zM601 292h1v3h-1zM602 290h1v2h-1zM603 287h1v3h-1zM604 284h1v3h-1zM605 281h1v3h-1zM606 279h1v2h-1zM607 276h1v3h-1zM608 273h1v3h-1zM609 270h1v3h-1zM610 267h1v3h-1zM611 265h1v2h-1zM612 262h1v3h-1zM613 259h1v3h-1zM614 256h1v3h-1zM615 253h1v3h-1zM616 250h1v3h-1zM617 247h1v3h-1zM618 245h1v2h-1zM619 242h1v3h-1zM620 239h1v3h-1zM621 236h1v3h-1zM622 234h1v2h-1zM623 231h1v3h-1zM624 229h1v2h-1zM625 227h1v2h-1zM626 224h1v3h-1zM627 222h1v2h-1zM628 219h1v3h-1zM629 217h1v2h-1zM630 215h1v2h-1zM631 213h1v2h-1zM632 210h1v3h-1zM633 208h1v2h-1zM634 206h1v2h-1zM635 204h1v2h-1zM636 202h1v2h-1zM637 200h1v2h-1zM638 198h1v2h-1zM639 196h1v2h-1zM640 194h1v2h-1zM641 192h1v2h-1zM642 191h1v1h-1zM643 189h1v2h-1zM644 187h1v2h-1zM645 185h1v2h-1zM646 184h1v1h-1zM647 182h1v2h-1zM648 180h1v2h-1zM649 179h1v1h-1zM650 177h1v2h-1zM651 176h1v1h-1zM652 175h1v1h-1zM653 174h1v1h-1zM654 173h1v1h-1zM655 172h1v1h-1zM656 171h1v1h-1zM657 170h1v1h-1zM658 169h1v1h-1zM659 168h1v1h-1zM660 167h2v1h-2zM662 166h1v1h-1zM663 165h2v1h-2zM665 164h1v1h-1zM666 163h2v1h-2zM668 162h3v1h-3zM671 161h5v1h-5zM676 160h3v1h-3zM679 159h2v1h-2zM681 158h3v1h-3zM684 157h2v1h-2zM686 156h3v1h-3zM689 155h2v1h-2zM691 154h2v1h-2zM693 153h2v1h-2zM695 152h1v1h-1zM696 151h2v1h-2zM698 150h2v1h-2zM700 149h5v1h-5zM705 150h3v1h-3zM708 151h1v1h-1zM709 152h2v1h-2zM711 153h1v1h-1zM712 154h1v1h-1zM713 155h1v1h-1zM714 156h1v1h-1zM715 157h1v1h-1zM716 158h2v1h-2zM718 159h1v1h-1zM719 160h2v1h-2zM721 161h1v1h-1zM722 162h2v1h-2zM724 163h2v1h-2zM726 164h1v1h-1zM727 165h2v1h-2zM729 166h2v1h-2zM731 167h1v1h-1zM732 168h2v1h-2zM734 169h1v1h-1zM735 170h1v1h-1zM736 171h1v1h-1zM737 172h1v1h-1zM738 173h2v1h-2zM740 174h1v1h-1zM741 175h1v1h-1zM742 176h1v2h-1zM743 178h1v1h-1zM744 179h1v1h-1zM745 180h1v1h-1zM746 181h1v1h-1zM747 182h1v1h-1zM748 183h1v2h-1zM749 185h1v1h-1zM750 186h1v1h-1zM751 187h1v2h-1zM752 189h1v1h-1zM753 190h1v1h-1zM754 191h1v1h-1zM755 192h1v1h-1zM756 193h1v2h-1zM757 195h1v1h-1zM758 196h1v1h-1zM759 197h2v1h-2zM761 198h1v1h-1zM762 199h1v1h-1zM763 200h1v1h-1zM764 201h3v1h-3zM767 202h3v1h-3zM770 203h3v1h-3zM773 204h3v1h-3zM776 205h4v1h-4zM780 206h19v1h-19zM799 207h6v1h-6zM805 208h3v1h-3zM808 209h2v1h-2zM810 210h2v1h-2zM812 211h5v1h-5zM817 212h6v1h-6zM823 213h5v1h-5zM828 213h1v2h-1zM829 213h16v1h-16zM845 212h11v1h-11zM856 211h5v1h-5zM861 210h2v1h-2zM863 209h3v1h-3zM866 208h3v1h-3zM869 207h7v1h-7zM876 206h32v1h-32zM908 206h1v2h-1zM909 206h32v1h-32zM941 207h3v1h-3zM944 208h3v1h-3zM947 209h2v1h-2zM949 210h2v1h-2zM951 211h3v1h-3zM954 212h2v1h-2zM956 213h3v1h-3zM959 214h6v1h-6zM965 215h8v1h-8zM973 216h4v1h-4zM977 217h14v1h-14zM991 216h3v1h-3zM994 215h3v1h-3zM997 214h4v1h-4zM1001 213h4v1h-4zM1005 212h3v1h-3zM1008 211h2v1h-2zM1010 210h2v1h-2zM1012 209h1v2h-1zM1013 209h2v1h-2zM1015 210h7v1h-7zM1022 211h2v1h-2zM1024 212h1v1h-1zM1025 213h2v1h-2zM1027 214h2v1h-2zM1029 215h3v1h-3zM1032 216h3v1h-3zM1035 217h2v1h-2zM1037 218h4v1h-4zM1041 219h4v1h-4zM1045 220h4v1h-4zM1049 221h15v1h-15zM1064 220h8v1h-8zM1072 221h5v1h-5zM1077 222h2v1h-2zM1079 223h2v1h-2zM1081 224h2v1h-2zM1083 225h1v1h-1zM1084 226h2v1h-2zM1086 227h2v1h-2zM1088 228h2v1h-2zM1090 229h2v1h-2zM1092 230h1v1h-1zM1093 231h2v1h-2zM1095 232h2v1h-2zM1097 233h1v1h-1zM1098 234h2v1h-2zM1100 235h2v1h-2zM1102 236h1v1h-1zM1103 237h2v1h-2zM1105 238h1v1h-1zM1106 239h2v1h-2zM1108 240h1v1h-1zM1109 241h1v1h-1zM1110 242h1v1h-1zM1111 243h1v1h-1zM1112 244h1v2h-1zM1113 246h1v1h-1zM1114 247h1v1h-1zM1115 248h1v1h-1zM1116 249h1v1h-1zM1117 250h1v2h-1zM1118 252h1v1h-1zM1119 253h1v2h-1zM1120 255h1v1h-1zM1121 256h1v2h-1zM1122 258h1v1h-1zM1123 259h1v2h-1zM1124 261h1v1h-1zM1125 262h1v1h-1zM1126 263h1v1h-1zM1127 264h1v1h-1zM1128 265h1v1h-1zM1129 266h1v1h-1zM1130 267h1v1h-1zM1131 268h1v1h-1zM1132 269h1v1h-1zM1133 270h1v1h-1zM1134 271h1v1h-1zM1135 272h1v1h-1zM1136 273h1v1h-1zM1137 274h1v1h-1zM1138 275h1v1h-1zM1139 276h1v2h-1zM1140 278h1v1h-1zM1141 279h1v1h-1zM1142 280h1v1h-1zM1143 281h1v1h-1zM1144 282h1v1h-1zM1145 283h1v2h-1zM1146 285h1v1h-1zM1147 286h1v1h-1zM1148 287h1v1h-1zM1149 288h1v1h-1zM1150 289h1v2h-1zM1151 291h1v1h-1zM1152 292h1v1h-1zM1153 293h1v1h-1zM1154 294h1v2h-1zM1155 296h1v1h-1zM1156 297h1v1h-1zM1157 298h1v1h-1zM1158 299h1v2h-1zM1159 301h1v1h-1zM1160 302h1v1h-1zM1161 303h1v1h-1zM1162 304h1v2h-1zM1163 306h1v1h-1zM1164 307h1v1h-1zM1165 308h1v1h-1zM1166 309h1v2h-1zM1167 311h1v1h-1zM1168 312h1v1h-1zM1169 313h1v2h-1zM1170 315h1v1h-1zM1171 316h1v1h-1zM1172 317h1v1h-1z" fill="#ff0000"/>
<path d="M4 418h17v1h-17zM21 419h5v1h-5zM26 420h6v1h-6zM32 421h5v1h-5zM37 422h4v1h-4zM41 423h5v1h-5zM46 424h4v1h-4zM50 425h4v1h-4zM54 426h4v1h-4zM58 427h5v1h-5zM63 428h4v1h-4zM67 429h4v1h-4zM71 430h3v1h-3zM74 431h2v1h-2zM76 432h3v1h-3zM79 433h2v1h-2zM81 434h3v1h-3zM84 435h3v1h-3zM87 436h2v1h-2zM89 437h3v1h-3zM92 438h3v1h-3zM95 439h2v1h-2zM97 440h3v1h-3zM100 441h2v1h-2zM102 442h3v1h-3zM105 443h5v1h-5zM110 444h5v1h-5zM115 445h5v1h-5zM120 446h5v1h-5zM125 447h5v1h-5zM130 448h5v1h-5zM135 449h5v1h-5zM140 450h6v1h-6zM146 451h5v1h-5zM151 452h6v1h-6zM157 453h5v1h-5zM162 454h6v1h-6zM168 455h6v1h-6zM174 456h7v1h-7zM181 457h7v1h-7zM188 458h8v1h-8zM196 459h7v1h-7zM203 460h6v1h-6zM209 461h60v1h-60zM269 460h10v1h-10zM279 459h4v1h-4zM283 458h5v1h-5zM288 457h4v1h-4zM292 456h5v1h-5zM297 455h4v1h-4zM301 454h5v1h-5zM306 453h4v1h-4zM310 452h3v1h-3zM313 451h3v1h-3zM316 450h2v1h-2zM318 449h3v1h-3zM321 448h2v1h-2zM323 447h3v1h-3zM326 446h2v1h-2zM328 445h3v1h-3zM331 444h3v1h-3zM334 443h3v1h-3zM337 442h3v1h-3zM340 441h3v1h-3zM343 440h2v1h-2zM345 439h3v1h-3zM348 438h3v1h-3zM351 437h3v1h-3zM354 436h4v1h-4zM358 435h6v1h-6zM364 434h6v1h-6zM370 433h4v1h-4zM374 432h5v1h-5zM379 431h4v1h-4zM383 430h5v1h-5zM388 429h4v1h-4zM392 428h5v1h-5zM397 427h5v1h-5zM402 426h5v1h-5zM407 425h4v1h-4zM411 424h5v1h-5zM416 423h5v1h-5zM421 422h6v1h-6zM427 421h5v1h-5zM432 420h6v1h-6zM438 419h5v1h-5zM443 418h5v1h-5zM448 417h4v1h-4zM452 416h5v1h-5zM457 415h4v1h-4zM461 414h4v1h-4zM465 413h4v1h-4zM469 412h4v1h-4zM473 411h4v1h-4zM477 410h4v1h-4zM481 409h4v1h-4zM485 408h4v1h-4zM489 407h4v1h-4zM493 406h3v1h-3zM496 405h4v1h-4zM500 404h6v1h-6zM506 403h6v1h-6zM512 402h5v1h-5zM517 401h6v1h-6zM523 400h6v1h-6zM529 399h6v1h-6zM535 398h3v1h-3zM538 397h2v1h-2zM540 396h3v1h-3zM543 395h2v1h-2zM545 394h2v1h-2zM547 393h2v1h-2zM549 392h3v1h-3zM552 391h2v1h-2zM554 390h2v1h-2zM556 389h2v1h-2zM558 388h1v1h-1zM559 387h2v1h-2zM561 386h2v1h-2zM563 385h1v1h-1zM564 384h2v1h-2zM566 383h1v1h-1zM567 382h2v1h-2zM569 381h1v1h-1zM570 380h1v1h-1zM571 379h2v1h-2zM573 378h1v1h-1zM574 377h1v1h-1zM575 376h2v1h-2zM577 375h1v1h-1zM578 374h2v1h-2zM580 373h1v1h-1zM581 372h1v1h-1zM582 371h1v1h-1zM583 370h1v1h-1zM584 369h1v1h-1zM585 367h1v2h-1zM586 366h1v1h-1zM587 365h1v1h-1zM588 364h1v1h-1zM589 363h1v1h-1zM590 362h1v1h-1zM591 361h1v1h-1zM592 360h1v1h-1zM593 359h1v1h-1zM594 358h1v1h-1zM595 357h1v1h-1zM596 356h2v1h-2zM598 355h1v1h-1zM599 354h1v1h-1zM600 353h1v1h-1zM601 352h1v1h-1zM602 351h1v1h-1zM603 350h1v1h-1zM604 349h1v1h-1zM605 347h1v2h-1zM606 346h1v1h-1zM607 345h1v1h-1zM608 343h1v2h-1zM609 342h1v1h-1zM610 341h1v1h-1zM611 339h1v2h-1zM612 338h1v1h-1zM613 337h1v1h-1zM614 335h1v2h-1zM615 334h1v1h-1zM616 333h1v1h-1zM617 332h1v1h-1zM618 330h1v2h-1zM619 329h1v1h-1zM620 328h1v1h-1zM621 326h1v2h-1zM622 324h1v2h-1zM623 323h1v1h-1zM624 321h1v2h-1zM625 319h1v2h-1zM626 318h1v1h-1zM627 316h1v2h-1zM628 314h1v2h-1zM629 313h1v1h-1zM630 311h1v2h-1zM631 310h1v1h-1zM632 308h1v2h-1zM633 307h1v1h-1zM634 305h1v2h-1zM635 304h1v1h-1zM636 303h1v1h-1zM637 301h1v2h-1zM638 300h1v1h-1zM639 299h1v1h-1zM640 298h1v1h-1zM641 297h1v1h-1zM642 296h1v1h-1zM643 295h1v1h-1zM644 294h1v1h-1zM645 293h1v1h-1zM646 292h1v1h-1zM647 291h1v1h-1zM648 290h1v1h-1zM649 289h2v1h-2zM651 288h1v1h-1zM652 287h1v1h-1zM653 286h1v1h-1zM654 285h1v1h-1zM655 284h1v1h-1zM656 283h1v1h-1zM657 282h1v1h-1zM658 281h1v1h-1zM659 280h1v1h-1zM660 279h1v1h-1zM661 278h1v1h-1zM662 277h1v1h-1zM663 276h2v1h-2zM665 275h1v1h-1zM666 274h1v1h-1zM667 273h1v1h-1zM668 272h1v1h-1zM669 271h1v1h-1zM670 270h1v1h-1zM671 269h2v1h-2zM673 268h1v1h-1zM674 267h2v1h-2zM676 266h1v1h-1zM677 265h1v1h-1zM678 264h1v1h-1zM679 263h2v1h-2zM681 262h1v1h-1zM682 261h1v1h-1zM683 260h1v1h-1zM684 259h2v1h-2zM686 258h1v1h-1zM687 257h1v1h-1zM688 256h1v1h-1zM689 255h1v1h-1zM690 254h1v1h-1zM691 253h1v1h-1zM692 252h1v1h-1zM693 251h1v1h-1zM694 250h1v1h-1zM695 249h1v1h-1zM696 248h1v1h-1zM697 247h1v1h-1zM698 246h1v1h-1zM699 245h1v1h-1zM700 244h1v1h-1zM701 243h1v1h-1zM702 242h1v1h-1zM703 241h2v1h-2zM705 240h1v1h-1zM706 239h1v1h-1zM707 238h1v1h-1zM708 237h2v1h-2zM710 236h1v1h-1zM711 235h1v1h-1zM712 234h1v1h-1zM713 233h1v1h-1zM714 232h2v1h-2zM716 231h1v1h-1zM717 230h1v1h-1zM718 229h2v1h-2zM720 228h1v1h-1zM721 227h2v1h-2zM723 226h1v1h-1zM724 225h1v1h-1zM725 224h2v1h-2zM727 223h1v1h-1zM728 222h2v1h-2zM730 221h1v1h-1zM731 220h2v1h-2zM733 219h1v1h-1zM734 218h1v1h-1zM735 217h2v1h-2zM737 216h1v1h-1zM738 215h1v1h-1zM739 214h1v1h-1zM740 213h2v1h-2zM742 212h1v1h-1zM743 211h2v1h-2zM745 210h1v1h-1zM746 209h1v1h-1zM747 208h2v1h-2zM749 207h1v1h-1zM750 206h2v1h-2zM752 205h1v1h-1zM753 204h2v1h-2zM755 203h2v1h-2zM757 202h1v1h-1zM758 201h2v1h-2zM760 200h1v1h-1zM761 199h2v1h-2zM763 198h2v1h-2zM765 197h2v1h-2zM767 196h2v1h-2zM769 195h2v1h-2zM771 194h2v1h-2zM773 193h2v1h-2zM775 192h3v1h-3zM778 191h2v1h-2zM780 190h4v1h-4zM784 189h4v1h-4zM788 188h3v1h-3zM791 187h3v1h-3zM794 186h2v1h-2zM796 185h4v1h-4zM800 184h3v1h-3zM803 183h18v1h-18zM821 182h17v1h-17zM838 183h3v1h-3zM841 184h2v1h-2zM843 185h3v1h-3zM846 186h2v1h-2zM848 187h2v1h-2zM850 188h2v1h-2zM852 189h3v1h-3zM855 190h3v1h-3zM858 191h3v1h-3zM861 192h4v1h-4zM865 193h4v1h-4zM869 194h2v1h-2zM871 195h1v1h-1zM872 196h2v1h-2zM874 197h1v1h-1zM875 198h2v1h-2zM877 199h2v1h-2zM879 200h1v1h-1zM880 201h2v1h-2zM882 202h2v1h-2zM884 203h2v1h-2zM886 204h3v1h-3zM889 205h3v1h-3zM892 206h6v1h-6zM898 207h15v1h-15zM913 206h24v1h-24zM937 207h6v1h-6zM943 208h3v1h-3zM946 209h4v1h-4zM950 210h4v1h-4zM954 211h5v1h-5zM959 212h6v1h-6zM965 213h7v1h-7zM972 213h1v2h-1zM973 213h8v1h-8zM981 212h16v1h-16zM997 211h8v1h-8zM1005 210h7v1h-7zM1012 209h17v1h-17zM1029 210h8v1h-8zM1037 211h5v1h-5zM1042 212h11v1h-11zM1053 213h14v1h-14zM1067 214h4v1h-4zM1071 215h2v1h-2zM1073 216h3v1h-3zM1076 217h2v1h-2zM1078 218h3v1h-3zM1081 219h2v1h-2zM1083 220h3v1h-3zM1086 221h3v1h-3zM1089 222h3v1h-3zM1092 223h3v1h-3zM1095 224h3v1h-3zM1098 225h3v1h-3zM1101 226h3v1h-3zM1104 227h2v1h-2zM1106 228h2v1h-2zM1108 229h2v1h-2zM1110 230h2v1h-2zM1112 231h3v1h-3zM1115 232h2v1h-2zM1117 233h2v1h-2zM1119 234h2v1h-2zM1121 235h2v1h-2zM1123 236h3v1h-3zM1126 237h2v1h-2zM1128 238h2v1h-2zM1130 239h2v1h-2zM1132 240h2v1h-2zM1134 241h2v1h-2zM1136 242h3v1h-3zM1139 243h2v1h-2zM1141 244h2v1h-2zM1143 245h1v1h-1zM1144 246h2v1h-2zM1146 247h1v1h-1zM1147 248h2v1h-2zM1149 249h2v1h-2zM1151 250h1v1h-1zM1152 251h2v1h-2zM1154 252h2v1h-2zM1156 253h1v1h-1zM1157 254h2v1h-2zM1159 255h1v1h-1zM1160 256h2v1h-2zM1162 257h1v1h-1zM1163 258h2v1h-2zM1165 259h1v1h-1zM1166 260h1v1h-1zM1167 261h2v1h-2zM1169 262h1v1h-1zM1170 263h1v1h-1zM1171 264h1v1h-1zM1172 265h1v1h-1z" fill="#0000cd"/>
</g>
<rect x="4" y="49" width="1484" height="2" fill="#ff0000"/>
<rect x="4" y="123" width="1484" height="2" fill="#ff0000"/>
<rect x="4" y="194" width="1484" height="2" fill="#ff0000"/>
<rect x="4" y="260" width="1484" height="2" fill="#00ff00"/>
<rect x="4" y="322" width="1484" height="2" fill="#0000ff"/>
<rect x="4" y="399" width="1484" height="2" fill="#0000ff"/>
<polygon points="1185,27 1195,27 1190,32" fill="#c0c0c0" shape-rendering="auto"/>
<rect x="3" y="26" width="1486" height="1" fill="#000"/>
<rect x="3" y="502" width="1486" height="1" fill="#000"/>
<rect x="3" y="504" width="1486" height="1" fill="#000"/>
<rect x="3" y="591" width="1486" height="1" fill="#000"/>
<rect x="3" y="593" width="1486" height="1" fill="#000"/>
<rect x="3" y="679" width="1486" height="1" fill="#000"/>
<rect x="3" y="26" width="1" height="477" fill="#000"/>
<rect x="3" y="504" width="1" height="88" fill="#000"/>
<rect x="3" y="593" width="1" height="87" fill="#000"/>
<rect x="1488" y="26" width="1" height="654" fill="#000"/>
<rect x="3" y="47" width="6" height="6" fill="#ff0000"/><rect x="5" y="49" width="2" height="2" fill="#ffffff"/>
<rect x="1482" y="47" width="6" height="6" fill="#ff0000"/><rect x="1484" y="49" width="2" height="2" fill="#ffffff"/>
<rect x="3" y="121" width="6" height="6" fill="#ff0000"/><rect x="5" y="123" width="2" height="2" fill="#ffffff"/>
<rect x="1482" y="121" width="6" height="6" fill="#ff0000"/><rect x="1484" y="123" width="2" height="2" fill="#ffffff"/>
<rect x="3" y="192" width="6" height="6" fill="#ff0000"/><rect x="5" y="194" width="2" height="2" fill="#ffffff"/>
<rect x="1482" y="192" width="6" height="6" fill="#ff0000"/><rect x="1484" y="194" width="2" height="2" fill="#ffffff"/>
<rect x="3" y="258" width="6" height="6" fill="#00ff00"/><rect x="5" y="260" width="2" height="2" fill="#ffffff"/>
<rect x="1482" y="258" width="6" height="6" fill="#00ff00"/><rect x="1484" y="260" width="2" height="2" fill="#ffffff"/>
<rect x="3" y="320" width="6" height="6" fill="#0000ff"/><rect x="5" y="322" width="2" height="2" fill="#ffffff"/>
<rect x="1482" y="320" width="6" height="6" fill="#0000ff"/><rect x="1484" y="322" width="2" height="2" fill="#ffffff"/>
<rect x="3" y="397" width="6" height="6" fill="#0000ff"/><rect x="5" y="399" width="2" height="2" fill="#ffffff"/>
<rect x="1482" y="397" width="6" height="6" fill="#0000ff"/><rect x="1484" y="399" width="2" height="2" fill="#ffffff"/>
<rect x="1489" y="37" width="2" height="1" fill="#000"/>
<rect x="1489" y="70" width="2" height="1" fill="#000"/>
<rect x="1489" y="103" width="2" height="1" fill="#000"/>
<rect x="1489" y="136" width="2" height="1" fill="#000"/>
<rect x="1489" y="169" width="2" height="1" fill="#000"/>
<rect x="1489" y="202" width="2" height="1" fill="#000"/>
<rect x="1489" y="235" width="2" height="1" fill="#000"/>
<rect x="1489" y="268" width="2" height="1" fill="#000"/>
<rect x="1489" y="301" width="2" height="1" fill="#000"/>
<rect x="1489" y="334" width="2" height="1" fill="#000"/>
<rect x="1489" y="367" width="2" height="1" fill="#000"/>
<rect x="1489" y="433" width="2" height="1" fill="#000"/>
<rect x="1489" y="466" width="2" height="1" fill="#000"/>
<rect x="1489" y="499" width="2" height="1" fill="#000"/>
<rect x="1489" y="506" width="1" height="1" fill="#000"/>
<rect x="1489" y="595" width="1" height="1" fill="#000"/>
<rect x="1489" y="648" width="1" height="1" fill="#000"/>
<rect x="1489" y="678" width="1" height="1" fill="#000"/>
<line x1="4" x2="1488" y1="531.5" y2="531.5" stroke="#c0c0c0" stroke-width="1" stroke-dasharray="3,3" stroke-dashoffset="5"/>
<line x1="4" x2="1488" y1="565.5" y2="565.5" stroke="#c0c0c0" stroke-width="1" stroke-dasharray="3,3" stroke-dashoffset="5"/>
<path d="M4 553h12v1h-12zM16 554h4v1h-4zM20 555h4v1h-4zM24 554h3v1h-3zM27 553h3v1h-3zM30 554h1v1h-1zM31 555h2v1h-2zM33 556h1v1h-1zM34 557h2v1h-2zM36 558h1v1h-1zM37 559h2v1h-2zM39 560h3v1h-3zM42 561h2v1h-2zM44 562h4v1h-4zM48 563h5v1h-5zM53 564h6v1h-6zM59 565h3v1h-3zM62 566h2v1h-2zM64 567h1v1h-1zM65 568h2v1h-2zM67 569h1v1h-1zM68 570h1v1h-1zM69 570h1v2h-1zM70 570h2v1h-2zM72 569h3v1h-3zM75 568h7v1h-7zM82 569h7v1h-7zM89 568h6v1h-6zM95 567h10v1h-10zM105 568h5v1h-5zM110 567h1v1h-1zM111 566h1v1h-1zM112 565h1v1h-1zM113 564h1v1h-1zM114 563h1v1h-1zM115 562h1v1h-1zM116 561h1v1h-1zM117 560h1v1h-1zM118 559h1v1h-1zM119 558h2v1h-2zM121 557h2v1h-2zM123 556h2v1h-2zM125 555h1v1h-1zM126 554h1v2h-1zM127 553h1v1h-1zM128 552h1v1h-1zM129 551h1v1h-1zM130 550h1v1h-1zM131 549h1v1h-1zM132 547h1v2h-1zM133 547h1v1h-1zM134 548h2v1h-2zM136 549h2v1h-2zM138 550h2v1h-2zM140 551h1v1h-1zM141 552h3v1h-3zM144 551h11v1h-11zM155 552h3v1h-3zM158 551h4v1h-4zM162 550h6v1h-6zM168 551h2v1h-2zM170 552h3v1h-3zM173 553h8v1h-8zM181 552h5v1h-5zM186 551h5v1h-5zM191 550h12v1h-12zM203 551h4v1h-4zM207 550h6v1h-6zM213 549h1v1h-1zM214 548h1v1h-1zM215 547h1v1h-1zM216 546h1v1h-1zM217 545h1v1h-1zM218 543h1v2h-1zM219 542h1v1h-1zM220 541h2v1h-2zM222 540h3v1h-3zM225 539h3v1h-3zM228 538h5v1h-5zM233 539h12v1h-12zM245 538h2v1h-2zM247 537h3v1h-3zM250 536h2v1h-2zM252 535h3v1h-3zM255 534h6v1h-6zM261 533h4v1h-4zM265 532h5v1h-5zM270 531h5v1h-5zM275 530h14v1h-14zM289 529h5v1h-5zM294 528h2v1h-2zM296 527h3v1h-3zM299 526h2v1h-2zM301 525h8v1h-8zM309 524h18v1h-18zM327 523h9v1h-9zM336 524h3v1h-3zM339 525h4v1h-4zM343 524h3v1h-3zM346 523h4v1h-4zM350 524h1v1h-1zM351 525h1v1h-1zM352 526h1v1h-1zM353 527h1v1h-1zM354 528h1v1h-1zM355 529h1v1h-1zM356 530h1v1h-1zM357 531h1v1h-1zM358 532h1v1h-1zM359 533h1v1h-1zM360 534h1v1h-1zM361 535h1v1h-1zM362 536h1v1h-1zM363 537h1v1h-1zM364 538h1v1h-1zM365 539h6v1h-6zM371 540h4v1h-4zM375 539h9v1h-9zM384 540h4v1h-4zM388 541h3v1h-3zM391 542h2v1h-2zM393 543h3v1h-3zM396 544h2v1h-2zM398 543h3v1h-3zM401 542h2v1h-2zM403 541h4v1h-4zM407 542h2v1h-2zM409 543h2v1h-2zM411 544h2v1h-2zM413 545h6v1h-6zM419 546h5v1h-5zM424 547h3v1h-3zM427 548h4v1h-4zM431 549h2v1h-2zM433 550h3v1h-3zM436 550h1v2h-1zM437 550h1v1h-1zM438 548h1v2h-1zM439 547h1v1h-1zM440 545h1v2h-1zM441 544h1v1h-1zM442 543h1v1h-1zM443 541h1v2h-1zM444 540h1v1h-1zM445 539h5v1h-5zM450 538h4v1h-4zM454 537h3v1h-3zM457 536h2v1h-2zM459 535h2v1h-2zM461 534h2v1h-2zM463 533h1v1h-1zM464 532h1v1h-1zM465 531h1v1h-1zM466 530h2v1h-2zM468 529h1v1h-1zM469 528h2v1h-2zM471 527h2v1h-2zM473 526h3v1h-3zM476 525h3v1h-3zM479 526h2v1h-2zM481 527h3v1h-3zM484 528h3v1h-3zM487 529h2v1h-2zM489 530h3v1h-3zM492 531h1v1h-1zM493 531h1v2h-1zM494 533h1v1h-1zM495 534h1v1h-1zM496 535h1v1h-1zM497 536h1v1h-1zM498 537h1v1h-1zM499 538h1v1h-1zM500 539h1v2h-1zM501 539h2v1h-2zM503 538h1v1h-1zM504 537h2v1h-2zM506 536h2v1h-2zM508 535h3v1h-3zM511 534h6v1h-6zM517 533h5v1h-5zM522 532h11v1h-11zM533 531h2v1h-2zM535 530h1v1h-1zM536 529h1v1h-1zM537 528h1v1h-1zM538 527h1v1h-1zM539 526h1v1h-1zM540 525h1v1h-1zM541 524h2v1h-2zM543 523h1v1h-1zM544 522h1v1h-1zM545 521h1v1h-1zM546 520h1v1h-1zM547 519h1v1h-1zM548 518h3v1h-3zM551 519h2v1h-2zM553 520h3v1h-3zM556 521h2v1h-2zM558 520h3v1h-3zM561 519h2v1h-2zM563 518h3v1h-3zM566 517h5v1h-5zM571 516h3v1h-3zM574 517h1v1h-1zM575 518h2v1h-2zM577 519h1v1h-1zM578 520h1v1h-1zM579 521h1v1h-1zM580 521h1v2h-1zM581 522h2v1h-2zM583 521h7v1h-7zM590 520h3v1h-3zM593 519h2v1h-2zM595 518h3v1h-3zM598 517h2v1h-2zM600 516h2v1h-2zM602 515h2v1h-2zM604 514h2v1h-2zM606 515h2v1h-2zM608 516h2v1h-2zM610 517h2v1h-2zM612 518h2v1h-2zM614 519h1v1h-1zM615 520h2v1h-2zM617 521h1v1h-1zM618 522h1v1h-1zM619 523h1v1h-1zM620 523h1v2h-1zM621 524h2v1h-2zM623 523h8v1h-8zM631 522h8v1h-8zM639 523h2v1h-2zM641 524h3v1h-3zM644 525h2v1h-2zM646 526h1v1h-1zM647 527h1v1h-1zM648 528h1v1h-1zM649 529h1v1h-1zM650 530h1v1h-1zM651 531h1v1h-1zM652 532h1v1h-1zM653 533h1v2h-1zM654 535h1v1h-1zM655 536h1v2h-1zM656 538h1v1h-1zM657 539h1v2h-1zM658 541h1v1h-1zM659 542h1v2h-1zM660 544h1v2h-1zM661 545h3v1h-3zM664 544h6v1h-6zM670 545h2v1h-2zM672 546h3v1h-3zM675 547h1v1h-1zM676 547h1v2h-1zM677 547h1v1h-1zM678 546h2v1h-2zM680 545h1v1h-1zM681 544h2v1h-2zM683 543h1v1h-1zM684 542h7v1h-7zM691 543h3v1h-3zM694 542h4v1h-4zM698 541h4v1h-4zM702 542h2v1h-2zM704 543h2v1h-2zM706 544h2v1h-2zM708 545h4v1h-4zM712 544h8v1h-8zM720 543h10v1h-10zM730 544h4v1h-4zM734 545h1v1h-1zM735 546h2v1h-2zM737 547h1v1h-1zM738 548h2v1h-2zM740 549h1v2h-1zM741 549h5v1h-5zM746 548h6v1h-6zM752 549h5v1h-5zM757 550h25v1h-25zM782 551h3v1h-3zM785 552h2v1h-2zM787 553h3v1h-3zM790 551h1v2h-1zM791 550h1v1h-1zM792 549h1v1h-1zM793 548h1v1h-1zM794 547h1v1h-1zM795 546h1v1h-1zM796 545h1v1h-1zM797 544h3v1h-3zM800 543h6v1h-6zM806 544h2v1h-2zM808 545h1v1h-1zM809 546h2v1h-2zM811 547h2v1h-2zM813 548h9v1h-9zM822 547h5v1h-5zM827 546h3v1h-3zM830 545h2v1h-2zM832 544h1v1h-1zM833 543h2v1h-2zM835 542h1v1h-1zM836 541h1v2h-1zM837 541h1v1h-1zM838 542h3v1h-3zM841 543h2v1h-2zM843 544h3v1h-3zM846 545h1v1h-1zM847 546h2v1h-2zM849 547h2v1h-2zM851 548h1v1h-1zM852 549h2v1h-2zM854 548h2v1h-2zM856 547h3v1h-3zM859 546h2v1h-2zM861 545h10v1h-10zM871 546h3v1h-3zM874 547h2v1h-2zM876 548h4v1h-4zM880 549h3v1h-3zM883 550h4v1h-4zM887 551h3v1h-3zM890 552h2v1h-2zM892 553h5v1h-5zM897 554h4v1h-4zM901 553h1v2h-1zM902 552h1v1h-1zM903 551h1v1h-1zM904 550h1v1h-1zM905 549h1v1h-1zM906 548h1v1h-1zM907 547h1v1h-1zM908 545h1v2h-1zM909 545h8v1h-8zM917 546h10v1h-10zM927 547h3v1h-3zM930 548h2v1h-2zM932 549h2v1h-2zM934 548h1v1h-1zM935 547h1v1h-1zM936 546h2v1h-2zM938 545h1v1h-1zM939 544h1v1h-1zM940 543h1v2h-1zM941 544h1v1h-1zM942 545h1v1h-1zM943 546h2v1h-2zM945 547h1v1h-1zM946 548h1v1h-1zM947 549h1v1h-1zM948 550h1v1h-1zM949 551h3v1h-3zM952 552h3v1h-3zM955 553h6v1h-6zM961 552h5v1h-5zM966 551h2v1h-2zM968 550h2v1h-2zM970 549h2v1h-2zM972 548h6v1h-6zM978 549h4v1h-4zM982 548h2v1h-2zM984 547h2v1h-2zM986 546h2v1h-2zM988 545h20v1h-20zM1008 544h4v1h-4zM1012 544h1v2h-1zM1013 545h1v1h-1zM1014 546h1v1h-1zM1015 547h1v1h-1zM1016 548h2v1h-2zM1018 549h1v1h-1zM1019 550h1v1h-1zM1020 551h1v1h-1zM1021 552h2v1h-2zM1023 553h2v1h-2zM1025 554h3v1h-3zM1028 555h4v1h-4zM1032 554h5v1h-5zM1037 553h3v1h-3zM1040 552h3v1h-3zM1043 551h3v1h-3zM1046 550h2v1h-2zM1048 549h3v1h-3zM1051 548h7v1h-7zM1058 549h7v1h-7zM1065 550h5v1h-5zM1070 551h1v1h-1zM1071 552h1v1h-1zM1072 553h1v1h-1zM1073 554h2v1h-2zM1075 555h1v1h-1zM1076 556h1v1h-1zM1077 557h6v1h-6zM1083 558h6v1h-6zM1089 559h6v1h-6zM1095 558h2v1h-2zM1097 557h3v1h-3zM1100 556h5v1h-5zM1105 557h4v1h-4zM1109 558h2v1h-2zM1111 559h1v1h-1zM1112 560h1v1h-1zM1113 561h1v1h-1zM1114 562h2v1h-2zM1116 563h1v1h-1zM1117 564h3v1h-3zM1120 565h3v1h-3zM1123 566h7v1h-7zM1130 567h4v1h-4zM1134 566h5v1h-5zM1139 565h3v1h-3zM1142 566h3v1h-3zM1145 567h3v1h-3zM1148 568h5v1h-5zM1153 567h6v1h-6zM1159 568h4v1h-4zM1163 569h10v1h-10z" fill="#1e90ff"/>
<rect x="4" y="648" width="1" height="4" fill="#c0c0c0"/>
<rect x="12" y="648" width="1" height="4" fill="#c0c0c0"/>
<rect x="20" y="648" width="1" height="4" fill="#c0c0c0"/>
<rect x="28" y="648" width="1" height="4" fill="#c0c0c0"/>
<rect x="36" y="648" width="1" height="5" fill="#c0c0c0"/>
<rect x="44" y="648" width="1" height="5" fill="#c0c0c0"/>
<rect x="52" y="648" width="1" height="6" fill="#c0c0c0"/>
<rect x="60" y="648" width="1" height="7" fill="#c0c0c0"/>
<rect x="68" y="648" width="1" height="7" fill="#c0c0c0"/>
<rect x="76" y="648" width="1" height="8" fill="#c0c0c0"/>
<rect x="84" y="648" width="1" height="10" fill="#c0c0c0"/>
<rect x="92" y="648" width="1" height="10" fill="#c0c0c0"/>
<rect x="100" y="648" width="1" height="10" fill="#c0c0c0"/>
<rect x="108" y="648" width="1" height="10" fill="#c0c0c0"/>
<rect x="116" y="648" width="1" height="10" fill="#c0c0c0"/>
<rect x="124" y="648" width="1" height="9" fill="#c0c0c0"/>
<rect x="132" y="648" width="1" height="8" fill="#c0c0c0"/>
<rect x="140" y="648" width="1" height="7" fill="#c0c0c0"/>
<rect x="148" y="648" width="1" height="6" fill="#c0c0c0"/>
<rect x="156" y="648" width="1" height="5" fill="#c0c0c0"/>
<rect x="164" y="648" width="1" height="5" fill="#c0c0c0"/>
<rect x="172" y="648" width="1" height="4" fill="#c0c0c0"/>
<rect x="180" y="648" width="1" height="4" fill="#c0c0c0"/>
<rect x="188" y="648" width="1" height="4" fill="#c0c0c0"/>
<rect x="196" y="648" width="1" height="4" fill="#c0c0c0"/>
<rect x="204" y="648" width="1" height="3" fill="#c0c0c0"/>
<rect x="212" y="648" width="1" height="3" fill="#c0c0c0"/>
<rect x="220" y="648" width="1" height="1" fill="#c0c0c0"/>
<rect x="228" y="648" width="1" height="1" fill="#c0c0c0"/>
<rect x="236" y="648" width="1" height="1" fill="#c0c0c0"/>
<rect x="244" y="647" width="1" height="1" fill="#c0c0c0"/>
<rect x="252" y="647" width="1" height="1" fill="#c0c0c0"/>
<rect x="260" y="646" width="1" height="2" fill="#c0c0c0"/>
<rect x="268" y="646" width="1" height="2" fill="#c0c0c0"/>
<rect x="276" y="645" width="1" height="3" fill="#c0c0c0"/>
<rect x="284" y="644" width="1" height="4" fill="#c0c0c0"/>
<rect x="292" y="644" width="1" height="4" fill="#c0c0c0"/>
<rect x="300" y="643" width="1" height="5" fill="#c0c0c0"/>
<rect x="308" y="642" width="1" height="6" fill="#c0c0c0"/>
<rect x="316" y="642" width="1" height="6" fill="#c0c0c0"/>
<rect x="324" y="641" width="1" height="7" fill="#c0c0c0"/>
<rect x="332" y="641" width="1" height="7" fill="#c0c0c0"/>
<rect x="340" y="640" width="1" height="8" fill="#c0c0c0"/>
<rect x="348" y="640" width="1" height="8" fill="#c0c0c0"/>
<rect x="356" y="640" width="1" height="8" fill="#c0c0c0"/>
<rect x="364" y="641" width="1" height="7" fill="#c0c0c0"/>
<rect x="372" y="642" width="1" height="6" fill="#c0c0c0"/>
<rect x="380" y="642" width="1" height="6" fill="#c0c0c0"/>
<rect x="388" y="643" width="1" height="5" fill="#c0c0c0"/>
<rect x="396" y="644" width="1" height="4" fill="#c0c0c0"/>
<rect x="404" y="644" width="1" height="4" fill="#c0c0c0"/>
<rect x="412" y="645" width="1" height="3" fill="#c0c0c0"/>
<rect x="420" y="645" width="1" height="3" fill="#c0c0c0"/>
<rect x="428" y="646" width="1" height="2" fill="#c0c0c0"/>
<rect x="436" y="646" width="1" height="2" fill="#c0c0c0"/>
<rect x="444" y="646" width="1" height="2" fill="#c0c0c0"/>
<rect x="452" y="646" width="1" height="2" fill="#c0c0c0"/>
<rect x="460" y="645" width="1" height="3" fill="#c0c0c0"/>
<rect x="468" y="644" width="1" height="4" fill="#c0c0c0"/>
<rect x="476" y="643" width="1" height="5" fill="#c0c0c0"/>
<rect x="484" y="642" width="1" height="6" fill="#c0c0c0"/>
<rect x="492" y="642" width="1" height="6" fill="#c0c0c0"/>
<rect x="500" y="642" width="1" height="6" fill="#c0c0c0"/>
<rect x="508" y="642" width="1" height="6" fill="#c0c0c0"/>
<rect x="516" y="642" width="1" height="6" fill="#c0c0c0"/>
<rect x="524" y="641" width="1" height="7" fill="#c0c0c0"/>
<rect x="532" y="640" width="1" height="8" fill="#c0c0c0"/>
<rect x="540" y="640" width="1" height="8" fill="#c0c0c0"/>
<rect x="548" y="635" width="1" height="13" fill="#c0c0c0"/>
<rect x="556" y="632" width="1" height="16" fill="#c0c0c0"/>
<rect x="564" y="629" width="1" height="19" fill="#c0c0c0"/>
<rect x="572" y="625" width="1" height="23" fill="#c0c0c0"/>
<rect x="580" y="623" width="1" height="25" fill="#c0c0c0"/>
<rect x="588" y="621" width="1" height="27" fill="#c0c0c0"/>
<rect x="596" y="617" width="1" height="31" fill="#c0c0c0"/>
<rect x="604" y="609" width="1" height="39" fill="#c0c0c0"/>
<rect x="612" y="605" width="1" height="43" fill="#c0c0c0"/>
<rect x="620" y="603" width="1" height="45" fill="#c0c0c0"/>
<rect x="628" y="602" width="1" height="46" fill="#c0c0c0"/>
<rect x="636" y="600" width="1" height="48" fill="#c0c0c0"/>
<rect x="644" y="599" width="1" height="49" fill="#c0c0c0"/>
<rect x="652" y="602" width="1" height="46" fill="#c0c0c0"/>
<rect x="660" y="608" width="1" height="40" fill="#c0c0c0"/>
<rect x="668" y="612" width="1" height="36" fill="#c0c0c0"/>
<rect x="676" y="618" width="1" height="30" fill="#c0c0c0"/>
<rect x="684" y="620" width="1" height="28" fill="#c0c0c0"/>
<rect x="692" y="623" width="1" height="25" fill="#c0c0c0"/>
<rect x="700" y="624" width="1" height="24" fill="#c0c0c0"/>
<rect x="708" y="626" width="1" height="22" fill="#c0c0c0"/>
<rect x="716" y="628" width="1" height="20" fill="#c0c0c0"/>
<rect x="724" y="630" width="1" height="18" fill="#c0c0c0"/>
<rect x="732" y="632" width="1" height="16" fill="#c0c0c0"/>
<rect x="740" y="635" width="1" height="13" fill="#c0c0c0"/>
<rect x="748" y="638" width="1" height="10" fill="#c0c0c0"/>
<rect x="756" y="640" width="1" height="8" fill="#c0c0c0"/>
<rect x="764" y="642" width="1" height="6" fill="#c0c0c0"/>
<rect x="772" y="644" width="1" height="4" fill="#c0c0c0"/>
<rect x="780" y="646" width="1" height="2" fill="#c0c0c0"/>
<rect x="788" y="648" width="1" height="1" fill="#c0c0c0"/>
<rect x="796" y="647" width="1" height="1" fill="#c0c0c0"/>
<rect x="804" y="646" width="1" height="2" fill="#c0c0c0"/>
<rect x="812" y="645" width="1" height="3" fill="#c0c0c0"/>
<rect x="820" y="645" width="1" height="3" fill="#c0c0c0"/>
<rect x="828" y="644" width="1" height="4" fill="#c0c0c0"/>
<rect x="836" y="643" width="1" height="5" fill="#c0c0c0"/>
<rect x="844" y="643" width="1" height="5" fill="#c0c0c0"/>
<rect x="852" y="644" width="1" height="4" fill="#c0c0c0"/>
<rect x="860" y="644" width="1" height="4" fill="#c0c0c0"/>
<rect x="868" y="644" width="1" height="4" fill="#c0c0c0"/>
<rect x="876" y="646" width="1" height="2" fill="#c0c0c0"/>
<rect x="884" y="647" width="1" height="1" fill="#c0c0c0"/>
<rect x="892" y="648" width="1" height="1" fill="#c0c0c0"/>
<rect x="900" y="648" width="1" height="2" fill="#c0c0c0"/>
<rect x="908" y="648" width="1" height="1" fill="#c0c0c0"/>
<rect x="916" y="648" width="1" height="1" fill="#c0c0c0"/>
<rect x="924" y="648" width="1" height="1" fill="#c0c0c0"/>
<rect x="932" y="648" width="1" height="1" fill="#c0c0c0"/>
<rect x="940" y="648" width="1" height="1" fill="#c0c0c0"/>
<rect x="948" y="648" width="1" height="1" fill="#c0c0c0"/>
<rect x="956" y="648" width="1" height="1" fill="#c0c0c0"/>
<rect x="964" y="648" width="1" height="2" fill="#c0c0c0"/>
<rect x="972" y="648" width="1" height="2" fill="#c0c0c0"/>
<rect x="980" y="648" width="1" height="2" fill="#c0c0c0"/>
<rect x="988" y="648" width="1" height="1" fill="#c0c0c0"/>
<rect x="996" y="648" width="1" height="1" fill="#c0c0c0"/>
<rect x="1004" y="648" width="1" height="1" fill="#c0c0c0"/>
<rect x="1012" y="648" width="1" height="1" fill="#c0c0c0"/>
<rect x="1020" y="648" width="1" height="1" fill="#c0c0c0"/>
<rect x="1028" y="648" width="1" height="2" fill="#c0c0c0"/>
<rect x="1036" y="648" width="1" height="3" fill="#c0c0c0"/>
<rect x="1044" y="648" width="1" height="3" fill="#c0c0c0"/>
<rect x="1052" y="648" width="1" height="3" fill="#c0c0c0"/>
<rect x="1060" y="648" width="1" height="2" fill="#c0c0c0"/>
<rect x="1068" y="648" width="1" height="2" fill="#c0c0c0"/>
<rect x="1076" y="648" width="1" height="5" fill="#c0c0c0"/>
<rect x="1084" y="648" width="1" height="7" fill="#c0c0c0"/>
<rect x="1092" y="648" width="1" height="9" fill="#c0c0c0"/>
<rect x="1100" y="648" width="1" height="10" fill="#c0c0c0"/>
<rect x="1108" y="648" width="1" height="10" fill="#c0c0c0"/>
<rect x="1116" y="648" width="1" height="12" fill="#c0c0c0"/>
<rect x="1124" y="648" width="1" height="17" fill="#c0c0c0"/>
<rect x="1132" y="648" width="1" height="19" fill="#c0c0c0"/>
<rect x="1140" y="648" width="1" height="21" fill="#c0c0c0"/>
<rect x="1148" y="648" width="1" height="23" fill="#c0c0c0"/>
<rect x="1156" y="648" width="1" height="24" fill="#c0c0c0"/>
<rect x="1164" y="648" width="1" height="26" fill="#c0c0c0"/>
<rect x="1172" y="648" width="1" height="27" fill="#c0c0c0"/>
<path d="M4 652h3v1h-3zM10 652h3v1h-3zM16 652h3v1h-3zM22 652h3v1h-3zM28 652h3v1h-3zM34 652h3v1h-3zM40 652h3v1h-3zM46 652h3v1h-3zM52 652h3v1h-3zM58 653h3v1h-3zM64 653h3v1h-3zM70 653h3v1h-3zM76 653h3v1h-3zM82 654h3v1h-3zM88 654h2v1h-2zM90 655h1v1h-1zM94 655h3v1h-3zM100 656h3v1h-3zM106 656h3v1h-3zM112 657h3v1h-3zM118 657h3v1h-3zM124 657h3v1h-3zM130 657h1v2h-1zM131 657h2v1h-2zM136 657h3v1h-3zM142 657h3v1h-3zM148 657h3v1h-3zM154 657h3v1h-3zM160 656h3v1h-3zM166 656h3v1h-3zM172 655h3v1h-3zM178 655h3v1h-3zM184 654h3v1h-3zM190 654h3v1h-3zM196 654h3v1h-3zM202 653h3v1h-3zM208 653h3v1h-3zM214 652h3v1h-3zM220 652h3v1h-3zM226 652h3v1h-3zM232 651h3v1h-3zM238 651h3v1h-3zM244 650h3v1h-3zM250 650h2v1h-2zM252 649h1v1h-1zM256 649h3v1h-3zM262 648h3v1h-3zM268 648h2v1h-2zM270 647h1v1h-1zM274 647h3v1h-3zM280 646h3v1h-3zM286 646h1v1h-1zM287 645h2v1h-2zM292 645h3v1h-3zM298 644h3v1h-3zM304 644h1v1h-1zM305 643h2v1h-2zM310 643h3v1h-3zM316 642h3v1h-3zM322 642h3v1h-3zM328 641h3v1h-3zM334 641h3v1h-3zM340 641h1v1h-1zM341 640h2v1h-2zM346 640h3v1h-3zM352 640h3v1h-3zM358 640h3v1h-3zM364 640h3v1h-3zM370 640h3v1h-3zM376 640h3v1h-3zM382 640h3v1h-3zM388 640h3v1h-3zM394 640h3v1h-3zM400 640h3v1h-3zM406 640h1v1h-1zM407 641h2v1h-2zM412 641h3v1h-3zM418 642h3v1h-3zM424 642h3v1h-3zM430 643h3v1h-3zM436 643h3v1h-3zM442 644h3v1h-3zM448 644h3v1h-3zM454 645h3v1h-3zM460 645h3v1h-3zM466 645h3v1h-3zM472 645h3v1h-3zM478 645h3v1h-3zM484 644h3v1h-3zM490 644h1v1h-1zM491 643h2v1h-2zM496 643h3v1h-3zM502 643h3v1h-3zM508 643h3v1h-3zM514 642h3v1h-3zM520 642h3v1h-3zM526 642h2v1h-2zM528 641h1v1h-1zM532 641h3v1h-3zM538 641h2v1h-2zM540 640h1v1h-1zM544 640h3v1h-3zM550 639h3v1h-3zM556 638h3v1h-3zM562 637h3v1h-3zM568 636h2v1h-2zM570 635h1v1h-1zM574 634h3v1h-3zM580 633h1v1h-1zM581 632h2v1h-2zM586 631h3v1h-3zM592 629h3v1h-3zM598 627h2v1h-2zM600 626h1v1h-1zM604 624h2v1h-2zM606 623h1v1h-1zM610 621h2v1h-2zM612 620h1v1h-1zM616 619h1v1h-1zM617 618h2v1h-2zM622 616h3v1h-3zM628 614h2v1h-2zM630 613h1v1h-1zM634 612h1v1h-1zM635 611h2v1h-2zM640 609h3v1h-3zM646 607h3v1h-3zM652 605h3v1h-3zM658 604h3v1h-3zM664 603h3v1h-3zM670 603h3v1h-3zM676 603h2v1h-2zM678 604h1v1h-1zM682 605h3v1h-3zM688 606h1v1h-1zM689 607h2v1h-2zM694 608h3v1h-3zM700 609h1v1h-1zM701 610h2v1h-2zM706 612h1v1h-1zM707 613h2v1h-2zM712 615h2v1h-2zM714 616h1v1h-1zM718 617h2v1h-2zM720 618h1v1h-1zM724 619h1v1h-1zM725 620h2v1h-2zM730 622h3v1h-3zM736 623h2v1h-2zM738 624h1v1h-1zM742 625h3v1h-3zM748 627h3v1h-3zM754 629h3v1h-3zM760 631h3v1h-3zM766 632h1v1h-1zM767 633h2v1h-2zM772 634h3v1h-3zM778 635h3v1h-3zM784 637h3v1h-3zM790 638h1v1h-1zM791 639h2v1h-2zM796 640h3v1h-3zM802 641h3v1h-3zM808 642h2v1h-2zM810 643h1v1h-1zM814 643h2v1h-2zM816 644h1v1h-1zM820 644h3v1h-3zM826 645h3v1h-3zM832 645h3v1h-3zM838 645h3v1h-3zM844 645h3v1h-3zM850 645h3v1h-3zM856 645h3v1h-3zM862 645h1v1h-1zM863 644h2v1h-2zM868 644h3v1h-3zM874 644h3v1h-3zM880 644h3v1h-3zM886 644h3v1h-3zM892 644h2v1h-2zM894 645h1v1h-1zM898 645h3v1h-3zM904 646h3v1h-3zM910 647h3v1h-3zM916 647h3v1h-3zM922 647h3v1h-3zM928 647h3v1h-3zM934 647h3v1h-3zM940 647h1v1h-1zM941 648h2v1h-2zM946 648h3v1h-3zM952 648h3v1h-3zM958 649h3v1h-3zM964 649h3v1h-3zM970 649h3v1h-3zM976 649h3v1h-3zM982 649h3v1h-3zM988 649h3v1h-3zM994 649h3v1h-3zM1000 649h3v1h-3zM1006 649h3v1h-3zM1012 649h3v1h-3zM1018 649h3v1h-3zM1024 649h3v1h-3zM1030 649h3v1h-3zM1036 649h3v1h-3zM1042 649h3v1h-3zM1048 649h3v1h-3zM1054 649h1v1h-1zM1055 650h2v1h-2zM1060 650h3v1h-3zM1066 650h3v1h-3zM1072 650h3v1h-3zM1078 651h3v1h-3zM1084 651h2v1h-2zM1086 652h1v1h-1zM1090 652h3v1h-3zM1096 652h2v1h-2zM1098 653h1v1h-1zM1102 653h3v1h-3zM1108 654h2v1h-2zM1110 655h1v1h-1zM1114 655h2v1h-2zM1116 656h1v1h-1zM1120 656h3v1h-3zM1126 657h3v1h-3zM1132 658h3v1h-3zM1138 659h1v1h-1zM1139 660h2v1h-2zM1144 661h3v1h-3zM1150 662h1v1h-1zM1151 663h2v1h-2zM1156 664h3v1h-3zM1162 665h1v1h-1zM1163 666h2v1h-2zM1168 667h3v1h-3z" fill="#ff0000"/>
<rect x="4" y="680" width="1" height="3" fill="#000"/>
<rect x="68" y="680" width="1" height="3" fill="#000"/>
<rect x="132" y="680" width="1" height="3" fill="#000"/>
<rect x="196" y="680" width="1" height="3" fill="#000"/>
<rect x="260" y="680" width="1" height="3" fill="#000"/>
<rect x="324" y="680" width="1" height="3" fill="#000"/>
<rect x="388" y="680" width="1" height="3" fill="#000"/>
<rect x="452" y="680" width="1" height="3" fill="#000"/>
<rect x="516" y="680" width="1" height="3" fill="#000"/>
<rect x="580" y="680" width="1" height="3" fill="#000"/>
<rect x="644" y="680" width="1" height="3" fill="#000"/>
<rect x="708" y="680" width="1" height="3" fill="#000"/>
<rect x="772" y="680" width="1" height="3" fill="#000"/>
<rect x="836" y="680" width="1" height="3" fill="#000"/>
<rect x="900" y="680" width="1" height="3" fill="#000"/>
<rect x="964" y="680" width="1" height="3" fill="#000"/>
<rect x="1028" y="680" width="1" height="3" fill="#000"/>
<rect x="1092" y="680" width="1" height="3" fill="#000"/>
<rect x="1156" y="680" width="1" height="3" fill="#000"/>
</g>
<text transform="translate(1494,40.7) rotate(0.03) scale(0.948,1)" font-size="9.7px" fill="#000" stroke="#000" stroke-width="0.18">1.47165</text>
<text transform="translate(1494,73.7) rotate(0.03) scale(0.948,1)" font-size="9.7px" fill="#000" stroke="#000" stroke-width="0.18">1.45870</text>
<text transform="translate(1494,106.7) rotate(0.03) scale(0.948,1)" font-size="9.7px" fill="#000" stroke="#000" stroke-width="0.18">1.44575</text>
<text transform="translate(1494,139.7) rotate(0.03) scale(0.948,1)" font-size="9.7px" fill="#000" stroke="#000" stroke-width="0.18">1.43315</text>
<text transform="translate(1494,172.7) rotate(0.03) scale(0.948,1)" font-size="9.7px" fill="#000" stroke="#000" stroke-width="0.18">1.42020</text>
<text transform="translate(1494,205.7) rotate(0.03) scale(0.948,1)" font-size="9.7px" fill="#000" stroke="#000" stroke-width="0.18">1.40725</text>
<text transform="translate(1494,238.7) rotate(0.03) scale(0.948,1)" font-size="9.7px" fill="#000" stroke="#000" stroke-width="0.18">1.39430</text>
<text transform="translate(1494,271.7) rotate(0.03) scale(0.948,1)" font-size="9.7px" fill="#000" stroke="#000" stroke-width="0.18">1.38170</text>
<text transform="translate(1494,304.7) rotate(0.03) scale(0.948,1)" font-size="9.7px" fill="#000" stroke="#000" stroke-width="0.18">1.36875</text>
<text transform="translate(1494,337.7) rotate(0.03) scale(0.948,1)" font-size="9.7px" fill="#000" stroke="#000" stroke-width="0.18">1.35580</text>
<text transform="translate(1494,370.7) rotate(0.03) scale(0.948,1)" font-size="9.7px" fill="#000" stroke="#000" stroke-width="0.18">1.34320</text>
<text transform="translate(1494,436.7) rotate(0.03) scale(0.948,1)" font-size="9.7px" fill="#000" stroke="#000" stroke-width="0.18">1.31730</text>
<text transform="translate(1494,469.7) rotate(0.03) scale(0.948,1)" font-size="9.7px" fill="#000" stroke="#000" stroke-width="0.18">1.30435</text>
<text transform="translate(1494,502.7) rotate(0.03) scale(0.948,1)" font-size="9.7px" fill="#000" stroke="#000" stroke-width="0.18">1.29175</text>
<g shape-rendering="crispEdges">
<rect x="1490" y="44" width="39" height="11" fill="#ff0000"/>
<rect x="1490" y="118" width="39" height="11" fill="#ff0000"/>
<rect x="1490" y="189" width="39" height="11" fill="#ff0000"/>
<rect x="1490" y="255" width="39" height="11" fill="#00ff00"/>
<rect x="1490" y="317" width="39" height="11" fill="#0000ff"/>
<rect x="1490" y="394" width="39" height="11" fill="#0000ff"/>
<rect x="1490" y="376" width="39" height="11" fill="#000"/>
</g>
<text transform="translate(1494,53.1) rotate(0.03) scale(0.948,1)" font-size="9.7px" fill="#fff" stroke="#fff" stroke-width="0.18">1.46651</text>
<text transform="translate(1494,127.1) rotate(0.03) scale(0.948,1)" font-size="9.7px" fill="#fff" stroke="#fff" stroke-width="0.18">1.43780</text>
<text transform="translate(1494,198.1) rotate(0.03) scale(0.948,1)" font-size="9.7px" fill="#fff" stroke="#fff" stroke-width="0.18">1.41000</text>
<text transform="translate(1494,264.1) rotate(0.03) scale(0.948,1)" font-size="9.7px" fill="#fff" stroke="#fff" stroke-width="0.18">1.38447</text>
<text transform="translate(1494,326.1) rotate(0.03) scale(0.948,1)" font-size="9.7px" fill="#fff" stroke="#fff" stroke-width="0.18">1.36029</text>
<text transform="translate(1494,403.1) rotate(0.03) scale(0.948,1)" font-size="9.7px" fill="#fff" stroke="#fff" stroke-width="0.18">1.33026</text>
<text transform="translate(1494,385.1) rotate(0.03) scale(0.948,1)" font-size="9.7px" fill="#fff" stroke="#fff" stroke-width="0.18">1.33750</text>
<text transform="translate(1492,514.9) rotate(0.03) scale(0.948,1)" font-size="9.7px" fill="#000" stroke="#000" stroke-width="0.18">100</text>
<text transform="translate(1491,535) rotate(0.03) scale(0.948,1)" font-size="9.7px" fill="#000" stroke="#000" stroke-width="0.18">70</text>
<text transform="translate(1491,569) rotate(0.03) scale(0.948,1)" font-size="9.7px" fill="#000" stroke="#000" stroke-width="0.18">30</text>
<text transform="translate(1492,587.6) rotate(0.03) scale(0.948,1)" font-size="9.7px" fill="#000" stroke="#000" stroke-width="0.18">0</text>
<text transform="translate(1492,604) rotate(0.03) scale(0.948,1)" font-size="9.7px" fill="#000" stroke="#000" stroke-width="0.18">0.032982</text>
<text transform="translate(1492,651.6) rotate(0.03) scale(0.948,1)" font-size="9.7px" fill="#000" stroke="#000" stroke-width="0.18">0.00</text>
<text transform="translate(1491.5,675.8) rotate(0.03) scale(0.948,1)" font-size="9.7px" fill="#000" stroke="#000" stroke-width="0.18">-0.018364</text>
<text transform="translate(3.5,692) rotate(0.03) scale(0.94,1)" font-size="9.7px" fill="#000" stroke="#000" stroke-width="0.18">21 Dec 2019</text>
<text transform="translate(67.5,692) rotate(0.03) scale(0.94,1)" font-size="9.7px" fill="#000" stroke="#000" stroke-width="0.18">31 Dec 2019</text>
<text transform="translate(131.5,692) rotate(0.03) scale(0.94,1)" font-size="9.7px" fill="#000" stroke="#000" stroke-width="0.18">9 Jan 2020</text>
<text transform="translate(195.5,692) rotate(0.03) scale(0.94,1)" font-size="9.7px" fill="#000" stroke="#000" stroke-width="0.18">18 Jan 2020</text>
<text transform="translate(259.5,692) rotate(0.03) scale(0.94,1)" font-size="9.7px" fill="#000" stroke="#000" stroke-width="0.18">28 Jan 2020</text>
<text transform="translate(323.5,692) rotate(0.03) scale(0.94,1)" font-size="9.7px" fill="#000" stroke="#000" stroke-width="0.18">6 Feb 2020</text>
<text transform="translate(387.5,692) rotate(0.03) scale(0.94,1)" font-size="9.7px" fill="#000" stroke="#000" stroke-width="0.18">15 Feb 2020</text>
<text transform="translate(451.5,692) rotate(0.03) scale(0.94,1)" font-size="9.7px" fill="#000" stroke="#000" stroke-width="0.18">25 Feb 2020</text>
<text transform="translate(515.5,692) rotate(0.03) scale(0.94,1)" font-size="9.7px" fill="#000" stroke="#000" stroke-width="0.18">5 Mar 2020</text>
<text transform="translate(579.5,692) rotate(0.03) scale(0.94,1)" font-size="9.7px" fill="#000" stroke="#000" stroke-width="0.18">14 Mar 2020</text>
<text transform="translate(643.5,692) rotate(0.03) scale(0.94,1)" font-size="9.7px" fill="#000" stroke="#000" stroke-width="0.18">24 Mar 2020</text>
<text transform="translate(707.5,692) rotate(0.03) scale(0.94,1)" font-size="9.7px" fill="#000" stroke="#000" stroke-width="0.18">2 Apr 2020</text>
<text transform="translate(771.5,692) rotate(0.03) scale(0.94,1)" font-size="9.7px" fill="#000" stroke="#000" stroke-width="0.18">11 Apr 2020</text>
<text transform="translate(835.5,692) rotate(0.03) scale(0.94,1)" font-size="9.7px" fill="#000" stroke="#000" stroke-width="0.18">21 Apr 2020</text>
<text transform="translate(899.5,692) rotate(0.03) scale(0.94,1)" font-size="9.7px" fill="#000" stroke="#000" stroke-width="0.18">30 Apr 2020</text>
<text transform="translate(963.5,692) rotate(0.03) scale(0.94,1)" font-size="9.7px" fill="#000" stroke="#000" stroke-width="0.18">9 May 2020</text>
<text transform="translate(1027.5,692) rotate(0.03) scale(0.94,1)" font-size="9.7px" fill="#000" stroke="#000" stroke-width="0.18">19 May 2020</text>
<text transform="translate(1091.5,692) rotate(0.03) scale(0.94,1)" font-size="9.7px" fill="#000" stroke="#000" stroke-width="0.18">28 May 2020</text>
<text transform="translate(1155.5,692) rotate(0.03) scale(0.94,1)" font-size="9.7px" fill="#000" stroke="#000" stroke-width="0.18">6 Jun 2020</text>
<polygon points="7,33 15,33 11,37" fill="#000"/>
<text transform="translate(19.3,38) rotate(0.03) scale(0.98,1)" font-size="9.9px" fill="#000" stroke="#000" stroke-width="0.18">USDCAD,Daily</text>
<text transform="translate(91,38) rotate(0.03) scale(0.948,1)" font-size="9.7px" fill="#000" stroke="#000" stroke-width="0.18">1.33807 1.33992 1.33559 1.33750</text>
<text transform="translate(8,516.6) rotate(0.03) scale(0.958,1)" font-size="9.7px" fill="#000" stroke="#000" stroke-width="0.18">RSI(14) 25.5509</text>
<text transform="translate(8,605.6) rotate(0.03) scale(0.958,1)" font-size="9.7px" fill="#000" stroke="#000" stroke-width="0.18">MACD(12,26,9) -0.016030 -0.011954</text>
<text transform="translate(-3.2,14.1) rotate(0.03) scale(0.96,1)" font-size="9.9px" fill="#333">15</text>
<text transform="translate(17.2,14.1) rotate(0.03) scale(0.96,1)" font-size="9.9px" fill="#333">M30</text>
<text transform="translate(48.3,14.1) rotate(0.03) scale(0.96,1)" font-size="9.9px" fill="#333">H1</text>
<text transform="translate(75.2,14.1) rotate(0.03) scale(0.96,1)" font-size="9.9px" fill="#333">H4</text>
<text transform="translate(104.2,14.1) rotate(0.03) scale(0.96,1)" font-size="9.9px" fill="#333">D1</text>
<text transform="translate(132,14.1) rotate(0.03) scale(0.96,1)" font-size="9.9px" fill="#333">W1</text>
<text transform="translate(158.3,14.1) rotate(0.03) scale(0.96,1)" font-size="9.9px" fill="#333">MN</text>
<g shape-rendering="crispEdges">
<rect x="0" y="700" width="1529" height="1" fill="#e3e3e3"/>
<rect x="0" y="703" width="1529" height="19" fill="#f0f0f0"/>
<rect x="0" y="722" width="1529" height="3" fill="#f8f8f8"/>
<rect x="0" y="702" width="1529" height="1" fill="#000"/>
<rect x="314" y="702" width="102" height="18" fill="#fff"/>
<rect x="313" y="702" width="1" height="19" fill="#000"/><rect x="416" y="702" width="1" height="19" fill="#000"/><rect x="313" y="720" width="104" height="1" fill="#000"/>
<rect x="1" y="703" width="1" height="17" fill="#808080"/>
</g>
<text transform="translate(17.5,716.4) rotate(0.03) scale(1.09,1)" font-size="11px" fill="#5a5a5a">EURUSD,Daily</text>
<text transform="translate(119,716.4) rotate(0.03) scale(1.09,1)" font-size="11px" fill="#5a5a5a">USDCHF,Daily</text>
<text transform="translate(220,716.4) rotate(0.03) scale(1.09,1)" font-size="11px" fill="#5a5a5a">AUDUSD,Daily</text>
<text transform="translate(427,716.4) rotate(0.03) scale(1.09,1)" font-size="11px" fill="#5a5a5a">USDCNH,Daily</text>
<text transform="translate(533,716.4) rotate(0.03) scale(1.09,1)" font-size="11px" fill="#5a5a5a">EURUSD,Daily</text>
<text transform="translate(637,716.4) rotate(0.03) scale(1.09,1)" font-size="11px" fill="#5a5a5a">GBPUSD,Daily</text>
<text transform="translate(740,716.4) rotate(0.03) scale(1.09,1)" font-size="11px" fill="#5a5a5a">XAUUSD,H4</text>
<text transform="translate(832,716.4) rotate(0.03) scale(1.09,1)" font-size="11px" fill="#5a5a5a">HK50,H1</text>
<text transform="translate(904,716.4) rotate(0.03) scale(1.09,1)" font-size="11px" fill="#5a5a5a">UK100,H1</text>
<text transform="translate(984.5,716.4) rotate(0.03) scale(1.09,1)" font-size="11px" fill="#5a5a5a">UK100,H1</text>
<text transform="translate(1064,716.4) rotate(0.03) scale(1.09,1)" font-size="11px" fill="#5a5a5a">GER30,H1</text>
<text transform="translate(1143.5,716.4) rotate(0.03) scale(1.09,1)" font-size="11px" fill="#5a5a5a">FRA40,H1</text>
<text transform="translate(1219,716.4) rotate(0.03) scale(1.09,1)" font-size="11px" fill="#5a5a5a">USOil,Daily</text>
<text transform="translate(1303,716.4) rotate(0.03) scale(1.09,1)" font-size="11px" fill="#5a5a5a">USDJPY,H1</text>
<text transform="translate(1387,716.4) rotate(0.03) scale(1.09,1)" font-size="11px" fill="#5a5a5a">DJ30,H1</text>
<text transform="translate(324.5,716.4) rotate(0.03) scale(1.09,1)" font-size="11px" fill="#000">USDCAD,Daily</text>
<g shape-rendering="crispEdges">
<rect x="109" y="705" width="1" height="14" fill="#5a5a5a"/>
<rect x="209" y="705" width="1" height="14" fill="#5a5a5a"/>
<rect x="521" y="705" width="1" height="14" fill="#5a5a5a"/>
<rect x="625" y="705" width="1" height="14" fill="#5a5a5a"/>
<rect x="729" y="705" width="1" height="14" fill="#5a5a5a"/>
<rect x="821" y="705" width="1" height="14" fill="#5a5a5a"/>
<rect x="893" y="705" width="1" height="14" fill="#5a5a5a"/>
<rect x="973" y="705" width="1" height="14" fill="#5a5a5a"/>
<rect x="1053" y="705" width="1" height="14" fill="#5a5a5a"/>
<rect x="1133" y="705" width="1" height="14" fill="#5a5a5a"/>
<rect x="1209" y="705" width="1" height="14" fill="#5a5a5a"/>
<rect x="1293" y="705" width="1" height="14" fill="#5a5a5a"/>
<rect x="1377" y="705" width="1" height="14" fill="#5a5a5a"/>
<rect x="1445" y="705" width="1" height="14" fill="#5a5a5a"/>
</g>
<polygon points="1507,708 1507,714 1503,711" fill="#a0a0a0"/><polygon points="1523,708 1523,714 1527,711" fill="#a0a0a0"/>
</svg></body></html>
